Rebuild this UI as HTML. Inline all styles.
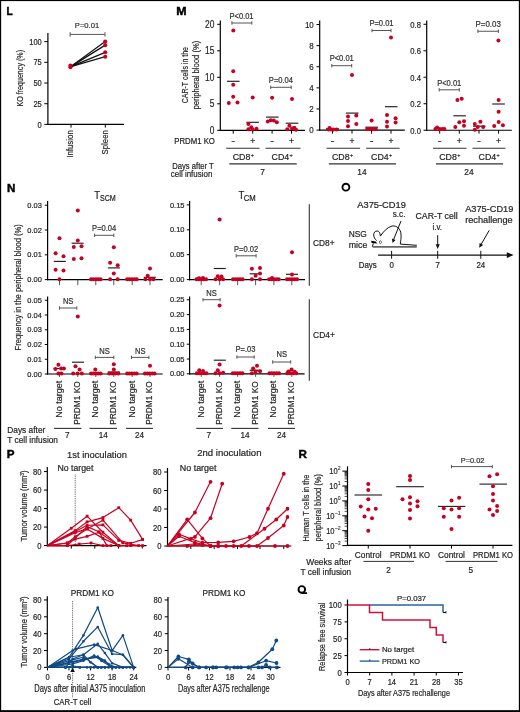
<!DOCTYPE html>
<html><head><meta charset="utf-8"><style>
html,body{margin:0;padding:0;background:#fff;}
svg{display:block;will-change:transform;}
text{font-family:"Liberation Sans",sans-serif;stroke:#2a2a2a;stroke-width:0.2px;}
</style></head><body>
<svg width="520" height="712" viewBox="0 0 520 712" font-family="Liberation Sans, sans-serif" fill="#222">
<rect width="520" height="712" fill="#fff"/>
<text x="6.50" y="14.80" font-size="11.3" font-weight="bold" fill="#000" textLength="6.21" lengthAdjust="spacingAndGlyphs" style="stroke:#000;stroke-width:0.45px">L</text>
<line x1="47.90" y1="33.00" x2="47.90" y2="125.00" stroke="#000" stroke-width="1.2"/>
<line x1="44.30" y1="124.40" x2="47.90" y2="124.40" stroke="#000" stroke-width="1.0"/>
<text x="41.70" y="127.50" font-size="8.6" text-anchor="end" textLength="4.16" lengthAdjust="spacingAndGlyphs">0</text>
<line x1="44.30" y1="103.71" x2="47.90" y2="103.71" stroke="#000" stroke-width="1.0"/>
<text x="41.70" y="106.81" font-size="8.6" text-anchor="end" textLength="8.32" lengthAdjust="spacingAndGlyphs">25</text>
<line x1="44.30" y1="83.03" x2="47.90" y2="83.03" stroke="#000" stroke-width="1.0"/>
<text x="41.70" y="86.12" font-size="8.6" text-anchor="end" textLength="8.32" lengthAdjust="spacingAndGlyphs">50</text>
<line x1="44.30" y1="62.34" x2="47.90" y2="62.34" stroke="#000" stroke-width="1.0"/>
<text x="41.70" y="65.44" font-size="8.6" text-anchor="end" textLength="8.32" lengthAdjust="spacingAndGlyphs">75</text>
<line x1="44.30" y1="41.65" x2="47.90" y2="41.65" stroke="#000" stroke-width="1.0"/>
<text x="41.70" y="44.75" font-size="8.6" text-anchor="end" textLength="12.48" lengthAdjust="spacingAndGlyphs">100</text>
<line x1="47.30" y1="124.40" x2="124.00" y2="124.40" stroke="#000" stroke-width="1.2"/>
<line x1="71.00" y1="124.40" x2="71.00" y2="127.60" stroke="#000" stroke-width="1.0"/>
<line x1="105.30" y1="124.40" x2="105.30" y2="127.60" stroke="#000" stroke-width="1.0"/>
<text x="73.30" y="130.20" font-size="8.4" text-anchor="end" transform="rotate(-90 73.30 130.20)" textLength="27.60" lengthAdjust="spacingAndGlyphs">Infusion</text>
<text x="107.90" y="130.20" font-size="8.4" text-anchor="end" transform="rotate(-90 107.90 130.20)" textLength="24.20" lengthAdjust="spacingAndGlyphs">Spleen</text>
<text x="22.90" y="78.30" font-size="9.0" text-anchor="middle" transform="rotate(-90 22.90 78.30)" textLength="56.60" lengthAdjust="spacingAndGlyphs">KO frequency (%)</text>
<line x1="70.15" y1="34.40" x2="105.00" y2="34.40" stroke="#555" stroke-width="1.0"/>
<line x1="70.15" y1="32.20" x2="70.15" y2="36.60" stroke="#555" stroke-width="1.0"/>
<line x1="105.00" y1="32.20" x2="105.00" y2="36.60" stroke="#555" stroke-width="1.0"/>
<text x="74.80" y="27.85" font-size="7.7" fill="#333" textLength="24.40" lengthAdjust="spacingAndGlyphs">P=0.01</text>
<line x1="70.90" y1="66.60" x2="105.20" y2="41.50" stroke="#111" stroke-width="1.25"/>
<line x1="70.90" y1="66.60" x2="105.20" y2="45.15" stroke="#111" stroke-width="1.25"/>
<line x1="70.90" y1="66.60" x2="105.20" y2="52.30" stroke="#111" stroke-width="1.25"/>
<line x1="70.90" y1="66.60" x2="105.20" y2="56.70" stroke="#111" stroke-width="1.25"/>
<circle cx="70.40" cy="65.60" r="2.05" fill="#c80020"/>
<circle cx="70.40" cy="67.30" r="2.05" fill="#c80020"/>
<circle cx="105.20" cy="41.50" r="2.05" fill="#c80020"/>
<circle cx="105.20" cy="45.15" r="2.05" fill="#c80020"/>
<circle cx="105.20" cy="52.30" r="2.05" fill="#c80020"/>
<circle cx="105.20" cy="56.70" r="2.05" fill="#c80020"/>
<text x="176.20" y="14.80" font-size="11.3" font-weight="bold" fill="#000" textLength="10.35" lengthAdjust="spacingAndGlyphs" style="stroke:#000;stroke-width:0.45px">M</text>
<line x1="220.30" y1="20.40" x2="220.30" y2="130.90" stroke="#000" stroke-width="1.2"/>
<line x1="217.10" y1="130.30" x2="220.30" y2="130.30" stroke="#000" stroke-width="1.0"/>
<text x="214.30" y="133.65" font-size="10.2" text-anchor="end" textLength="4.65" lengthAdjust="spacingAndGlyphs">0</text>
<line x1="217.10" y1="103.80" x2="220.30" y2="103.80" stroke="#000" stroke-width="1.0"/>
<text x="214.30" y="107.15" font-size="10.2" text-anchor="end" textLength="4.65" lengthAdjust="spacingAndGlyphs">5</text>
<line x1="217.10" y1="77.30" x2="220.30" y2="77.30" stroke="#000" stroke-width="1.0"/>
<text x="214.30" y="80.65" font-size="10.2" text-anchor="end" textLength="9.30" lengthAdjust="spacingAndGlyphs">10</text>
<line x1="217.10" y1="50.80" x2="220.30" y2="50.80" stroke="#000" stroke-width="1.0"/>
<text x="214.30" y="54.15" font-size="10.2" text-anchor="end" textLength="9.30" lengthAdjust="spacingAndGlyphs">15</text>
<line x1="217.10" y1="24.30" x2="220.30" y2="24.30" stroke="#000" stroke-width="1.0"/>
<text x="214.30" y="27.65" font-size="10.2" text-anchor="end" textLength="9.30" lengthAdjust="spacingAndGlyphs">20</text>
<line x1="319.70" y1="20.40" x2="319.70" y2="130.70" stroke="#000" stroke-width="1.2"/>
<line x1="316.50" y1="130.10" x2="319.70" y2="130.10" stroke="#000" stroke-width="1.0"/>
<text x="313.80" y="133.35" font-size="9.4" text-anchor="end" textLength="4.44" lengthAdjust="spacingAndGlyphs">0</text>
<line x1="316.50" y1="108.98" x2="319.70" y2="108.98" stroke="#000" stroke-width="1.0"/>
<text x="313.80" y="112.23" font-size="9.4" text-anchor="end" textLength="4.44" lengthAdjust="spacingAndGlyphs">2</text>
<line x1="316.50" y1="87.86" x2="319.70" y2="87.86" stroke="#000" stroke-width="1.0"/>
<text x="313.80" y="91.11" font-size="9.4" text-anchor="end" textLength="4.44" lengthAdjust="spacingAndGlyphs">4</text>
<line x1="316.50" y1="66.74" x2="319.70" y2="66.74" stroke="#000" stroke-width="1.0"/>
<text x="313.80" y="69.99" font-size="9.4" text-anchor="end" textLength="4.44" lengthAdjust="spacingAndGlyphs">6</text>
<line x1="316.50" y1="45.62" x2="319.70" y2="45.62" stroke="#000" stroke-width="1.0"/>
<text x="313.80" y="48.87" font-size="9.4" text-anchor="end" textLength="4.44" lengthAdjust="spacingAndGlyphs">8</text>
<line x1="316.50" y1="24.50" x2="319.70" y2="24.50" stroke="#000" stroke-width="1.0"/>
<text x="313.80" y="27.75" font-size="9.4" text-anchor="end" textLength="8.89" lengthAdjust="spacingAndGlyphs">10</text>
<line x1="426.70" y1="20.40" x2="426.70" y2="130.85" stroke="#000" stroke-width="1.2"/>
<line x1="423.50" y1="130.25" x2="426.70" y2="130.25" stroke="#000" stroke-width="1.0"/>
<text x="421.00" y="133.55" font-size="8.4" text-anchor="end" textLength="10.63" lengthAdjust="spacingAndGlyphs">0.0</text>
<line x1="423.50" y1="103.75" x2="426.70" y2="103.75" stroke="#000" stroke-width="1.0"/>
<text x="421.00" y="107.05" font-size="8.4" text-anchor="end" textLength="10.63" lengthAdjust="spacingAndGlyphs">0.2</text>
<line x1="423.50" y1="77.25" x2="426.70" y2="77.25" stroke="#000" stroke-width="1.0"/>
<text x="421.00" y="80.55" font-size="8.4" text-anchor="end" textLength="10.63" lengthAdjust="spacingAndGlyphs">0.4</text>
<line x1="423.50" y1="50.75" x2="426.70" y2="50.75" stroke="#000" stroke-width="1.0"/>
<text x="421.00" y="54.05" font-size="8.4" text-anchor="end" textLength="10.63" lengthAdjust="spacingAndGlyphs">0.6</text>
<line x1="423.50" y1="24.25" x2="426.70" y2="24.25" stroke="#000" stroke-width="1.0"/>
<text x="421.00" y="27.55" font-size="8.4" text-anchor="end" textLength="10.63" lengthAdjust="spacingAndGlyphs">0.8</text>
<line x1="219.70" y1="130.30" x2="305.00" y2="130.30" stroke="#000" stroke-width="1.2"/>
<line x1="319.10" y1="130.10" x2="404.80" y2="130.10" stroke="#000" stroke-width="1.2"/>
<line x1="426.10" y1="130.25" x2="511.80" y2="130.25" stroke="#000" stroke-width="1.2"/>
<line x1="233.20" y1="130.30" x2="233.20" y2="133.60" stroke="#000" stroke-width="1.0"/>
<line x1="231.60" y1="141.50" x2="234.80" y2="141.50" stroke="#333" stroke-width="0.9"/>
<line x1="252.70" y1="130.30" x2="252.70" y2="133.60" stroke="#000" stroke-width="1.0"/>
<text x="252.70" y="144.05" font-size="8.6" text-anchor="middle">+</text>
<line x1="272.10" y1="130.30" x2="272.10" y2="133.60" stroke="#000" stroke-width="1.0"/>
<line x1="270.50" y1="141.50" x2="273.70" y2="141.50" stroke="#333" stroke-width="0.9"/>
<line x1="291.50" y1="130.30" x2="291.50" y2="133.60" stroke="#000" stroke-width="1.0"/>
<text x="291.50" y="144.05" font-size="8.6" text-anchor="middle">+</text>
<line x1="332.50" y1="130.30" x2="332.50" y2="133.60" stroke="#000" stroke-width="1.0"/>
<line x1="330.90" y1="141.50" x2="334.10" y2="141.50" stroke="#333" stroke-width="0.9"/>
<line x1="352.00" y1="130.30" x2="352.00" y2="133.60" stroke="#000" stroke-width="1.0"/>
<text x="352.00" y="144.05" font-size="8.6" text-anchor="middle">+</text>
<line x1="371.60" y1="130.30" x2="371.60" y2="133.60" stroke="#000" stroke-width="1.0"/>
<line x1="370.00" y1="141.50" x2="373.20" y2="141.50" stroke="#333" stroke-width="0.9"/>
<line x1="391.00" y1="130.30" x2="391.00" y2="133.60" stroke="#000" stroke-width="1.0"/>
<text x="391.00" y="144.05" font-size="8.6" text-anchor="middle">+</text>
<line x1="439.70" y1="130.30" x2="439.70" y2="133.60" stroke="#000" stroke-width="1.0"/>
<line x1="438.10" y1="141.50" x2="441.30" y2="141.50" stroke="#333" stroke-width="0.9"/>
<line x1="459.30" y1="130.30" x2="459.30" y2="133.60" stroke="#000" stroke-width="1.0"/>
<text x="459.30" y="144.05" font-size="8.6" text-anchor="middle">+</text>
<line x1="479.00" y1="130.30" x2="479.00" y2="133.60" stroke="#000" stroke-width="1.0"/>
<line x1="477.40" y1="141.50" x2="480.60" y2="141.50" stroke="#333" stroke-width="0.9"/>
<line x1="498.60" y1="130.30" x2="498.60" y2="133.60" stroke="#000" stroke-width="1.0"/>
<text x="498.60" y="144.05" font-size="8.6" text-anchor="middle">+</text>
<text x="187.90" y="75.15" font-size="9.0" text-anchor="middle" transform="rotate(-90 187.90 75.15)" textLength="56.30" lengthAdjust="spacingAndGlyphs">CAR-T cells in the</text>
<text x="198.90" y="75.15" font-size="9.0" text-anchor="middle" transform="rotate(-90 198.90 75.15)" textLength="68.90" lengthAdjust="spacingAndGlyphs">peripheral blood (%)</text>
<text x="174.30" y="143.85" font-size="8.6" textLength="40.60" lengthAdjust="spacingAndGlyphs">PRDM1 KO</text>
<line x1="226.20" y1="148.30" x2="259.50" y2="148.30" stroke="#333" stroke-width="1.1"/>
<line x1="265.50" y1="148.30" x2="300.50" y2="148.30" stroke="#333" stroke-width="1.1"/>
<line x1="326.50" y1="148.30" x2="360.10" y2="148.30" stroke="#333" stroke-width="1.1"/>
<line x1="366.20" y1="148.30" x2="399.60" y2="148.30" stroke="#333" stroke-width="1.1"/>
<line x1="433.00" y1="148.30" x2="466.50" y2="148.30" stroke="#333" stroke-width="1.1"/>
<line x1="472.50" y1="148.30" x2="505.50" y2="148.30" stroke="#333" stroke-width="1.1"/>
<line x1="229.30" y1="163.90" x2="296.75" y2="163.90" stroke="#333" stroke-width="1.1"/>
<line x1="328.80" y1="163.90" x2="396.10" y2="163.90" stroke="#333" stroke-width="1.1"/>
<line x1="436.00" y1="163.90" x2="503.00" y2="163.90" stroke="#333" stroke-width="1.1"/>
<text x="232.65" y="159.80" font-size="9.0" textLength="17.70" lengthAdjust="spacingAndGlyphs">CD8</text>
<text x="250.65" y="156.80" font-size="5.5">+</text>
<text x="271.50" y="159.80" font-size="9.0" textLength="17.70" lengthAdjust="spacingAndGlyphs">CD4</text>
<text x="289.50" y="156.80" font-size="5.5">+</text>
<text x="331.95" y="159.80" font-size="9.0" textLength="17.70" lengthAdjust="spacingAndGlyphs">CD8</text>
<text x="349.95" y="156.80" font-size="5.5">+</text>
<text x="371.00" y="159.80" font-size="9.0" textLength="17.70" lengthAdjust="spacingAndGlyphs">CD4</text>
<text x="389.00" y="156.80" font-size="5.5">+</text>
<text x="439.20" y="159.80" font-size="9.0" textLength="17.70" lengthAdjust="spacingAndGlyphs">CD8</text>
<text x="457.20" y="156.80" font-size="5.5">+</text>
<text x="478.50" y="159.80" font-size="9.0" textLength="17.70" lengthAdjust="spacingAndGlyphs">CD4</text>
<text x="496.50" y="156.80" font-size="5.5">+</text>
<text x="262.50" y="175.30" font-size="8.8" text-anchor="middle" textLength="4.65" lengthAdjust="spacingAndGlyphs">7</text>
<text x="361.90" y="175.30" font-size="8.8" text-anchor="middle" textLength="9.30" lengthAdjust="spacingAndGlyphs">14</text>
<text x="469.00" y="175.30" font-size="8.8" text-anchor="middle" textLength="9.30" lengthAdjust="spacingAndGlyphs">24</text>
<text x="172.30" y="168.60" font-size="8.6" textLength="41.40" lengthAdjust="spacingAndGlyphs">Days after T</text>
<text x="170.80" y="177.30" font-size="8.6" textLength="41.50" lengthAdjust="spacingAndGlyphs">cell infusion</text>
<line x1="231.90" y1="23.00" x2="251.80" y2="23.00" stroke="#555" stroke-width="1.0"/>
<line x1="231.90" y1="21.30" x2="231.90" y2="24.70" stroke="#555" stroke-width="1.0"/>
<line x1="251.80" y1="21.30" x2="251.80" y2="24.70" stroke="#555" stroke-width="1.0"/>
<text x="229.50" y="18.70" font-size="8.6" fill="#333" textLength="24.00" lengthAdjust="spacingAndGlyphs">P&lt;0.01</text>
<line x1="270.70" y1="87.30" x2="291.20" y2="87.30" stroke="#555" stroke-width="1.0"/>
<line x1="270.70" y1="85.60" x2="270.70" y2="89.00" stroke="#555" stroke-width="1.0"/>
<line x1="291.20" y1="85.60" x2="291.20" y2="89.00" stroke="#555" stroke-width="1.0"/>
<text x="280.95" y="83.00" font-size="8.6" text-anchor="middle" fill="#333" textLength="24.19" lengthAdjust="spacingAndGlyphs">P=0.04</text>
<line x1="331.80" y1="65.70" x2="351.70" y2="65.70" stroke="#555" stroke-width="1.0"/>
<line x1="331.80" y1="64.00" x2="331.80" y2="67.40" stroke="#555" stroke-width="1.0"/>
<line x1="351.70" y1="64.00" x2="351.70" y2="67.40" stroke="#555" stroke-width="1.0"/>
<text x="341.75" y="61.40" font-size="8.6" text-anchor="middle" fill="#333" textLength="24.19" lengthAdjust="spacingAndGlyphs">P&lt;0.01</text>
<line x1="372.00" y1="30.50" x2="391.00" y2="30.50" stroke="#555" stroke-width="1.0"/>
<line x1="372.00" y1="28.80" x2="372.00" y2="32.20" stroke="#555" stroke-width="1.0"/>
<line x1="391.00" y1="28.80" x2="391.00" y2="32.20" stroke="#555" stroke-width="1.0"/>
<text x="381.50" y="26.20" font-size="8.6" text-anchor="middle" fill="#333" textLength="24.19" lengthAdjust="spacingAndGlyphs">P=0.01</text>
<line x1="439.20" y1="89.80" x2="459.30" y2="89.80" stroke="#555" stroke-width="1.0"/>
<line x1="439.20" y1="88.10" x2="439.20" y2="91.50" stroke="#555" stroke-width="1.0"/>
<line x1="459.30" y1="88.10" x2="459.30" y2="91.50" stroke="#555" stroke-width="1.0"/>
<text x="449.25" y="85.50" font-size="8.6" text-anchor="middle" fill="#333" textLength="24.19" lengthAdjust="spacingAndGlyphs">P&lt;0.01</text>
<line x1="477.90" y1="31.25" x2="498.40" y2="31.25" stroke="#555" stroke-width="1.0"/>
<line x1="477.90" y1="29.55" x2="477.90" y2="32.95" stroke="#555" stroke-width="1.0"/>
<line x1="498.40" y1="29.55" x2="498.40" y2="32.95" stroke="#555" stroke-width="1.0"/>
<text x="475.50" y="26.95" font-size="8.6" fill="#333" textLength="25.30" lengthAdjust="spacingAndGlyphs">P=0.03</text>
<line x1="226.95" y1="81.30" x2="239.55" y2="81.30" stroke="#1e1e1e" stroke-width="1.15"/>
<line x1="246.35" y1="122.30" x2="258.95" y2="122.30" stroke="#1e1e1e" stroke-width="1.15"/>
<line x1="266.05" y1="117.10" x2="278.65" y2="117.10" stroke="#1e1e1e" stroke-width="1.15"/>
<line x1="285.70" y1="123.20" x2="298.30" y2="123.20" stroke="#1e1e1e" stroke-width="1.15"/>
<circle cx="233.30" cy="30.40" r="2.0" fill="#c80020"/>
<circle cx="233.20" cy="71.25" r="2.0" fill="#c80020"/>
<circle cx="233.20" cy="84.75" r="2.0" fill="#c80020"/>
<circle cx="233.20" cy="96.70" r="2.0" fill="#c80020"/>
<circle cx="228.80" cy="102.90" r="2.0" fill="#c80020"/>
<circle cx="237.50" cy="102.40" r="2.0" fill="#c80020"/>
<circle cx="252.70" cy="97.40" r="2.0" fill="#c80020"/>
<circle cx="248.40" cy="124.00" r="2.0" fill="#c80020"/>
<circle cx="251.30" cy="127.20" r="2.0" fill="#c80020"/>
<circle cx="248.40" cy="129.20" r="2.0" fill="#c80020"/>
<circle cx="256.50" cy="128.70" r="2.0" fill="#c80020"/>
<circle cx="252.70" cy="129.50" r="2.0" fill="#c80020"/>
<circle cx="272.10" cy="97.70" r="2.0" fill="#c80020"/>
<circle cx="267.80" cy="121.40" r="2.0" fill="#c80020"/>
<circle cx="270.70" cy="120.20" r="2.0" fill="#c80020"/>
<circle cx="273.80" cy="120.60" r="2.0" fill="#c80020"/>
<circle cx="276.80" cy="122.30" r="2.0" fill="#c80020"/>
<circle cx="292.00" cy="99.10" r="2.0" fill="#c80020"/>
<circle cx="289.40" cy="125.80" r="2.0" fill="#c80020"/>
<circle cx="287.30" cy="129.20" r="2.0" fill="#c80020"/>
<circle cx="292.00" cy="128.40" r="2.0" fill="#c80020"/>
<circle cx="294.30" cy="127.80" r="2.0" fill="#c80020"/>
<circle cx="296.00" cy="129.70" r="2.0" fill="#c80020"/>
<line x1="326.20" y1="128.60" x2="338.80" y2="128.60" stroke="#1e1e1e" stroke-width="1.15"/>
<line x1="345.90" y1="113.10" x2="358.50" y2="113.10" stroke="#1e1e1e" stroke-width="1.15"/>
<line x1="365.35" y1="127.20" x2="377.95" y2="127.20" stroke="#1e1e1e" stroke-width="1.15"/>
<line x1="384.90" y1="106.70" x2="397.50" y2="106.70" stroke="#1e1e1e" stroke-width="1.15"/>
<circle cx="328.50" cy="129.60" r="2.0" fill="#c80020"/>
<circle cx="331.00" cy="129.60" r="2.0" fill="#c80020"/>
<circle cx="333.50" cy="129.60" r="2.0" fill="#c80020"/>
<circle cx="336.50" cy="129.60" r="2.0" fill="#c80020"/>
<circle cx="329.50" cy="128.00" r="2.0" fill="#c80020"/>
<circle cx="352.00" cy="75.10" r="2.0" fill="#c80020"/>
<circle cx="348.00" cy="116.60" r="2.0" fill="#c80020"/>
<circle cx="356.30" cy="115.40" r="2.0" fill="#c80020"/>
<circle cx="348.00" cy="121.10" r="2.0" fill="#c80020"/>
<circle cx="348.00" cy="126.30" r="2.0" fill="#c80020"/>
<circle cx="356.30" cy="124.00" r="2.0" fill="#c80020"/>
<circle cx="371.60" cy="120.60" r="2.0" fill="#c80020"/>
<circle cx="367.20" cy="128.90" r="2.0" fill="#c80020"/>
<circle cx="370.00" cy="128.90" r="2.0" fill="#c80020"/>
<circle cx="372.80" cy="128.90" r="2.0" fill="#c80020"/>
<circle cx="375.80" cy="128.90" r="2.0" fill="#c80020"/>
<circle cx="391.00" cy="37.50" r="2.0" fill="#c80020"/>
<circle cx="387.00" cy="114.90" r="2.0" fill="#c80020"/>
<circle cx="387.00" cy="121.80" r="2.0" fill="#c80020"/>
<circle cx="387.00" cy="126.60" r="2.0" fill="#c80020"/>
<circle cx="395.60" cy="118.30" r="2.0" fill="#c80020"/>
<circle cx="395.60" cy="122.60" r="2.0" fill="#c80020"/>
<line x1="453.30" y1="115.80" x2="465.90" y2="115.80" stroke="#1e1e1e" stroke-width="1.15"/>
<line x1="472.95" y1="126.20" x2="485.55" y2="126.20" stroke="#1e1e1e" stroke-width="1.15"/>
<line x1="492.30" y1="104.00" x2="504.90" y2="104.00" stroke="#1e1e1e" stroke-width="1.15"/>
<circle cx="435.40" cy="129.10" r="2.0" fill="#c80020"/>
<circle cx="437.10" cy="127.40" r="2.0" fill="#c80020"/>
<circle cx="439.70" cy="129.10" r="2.0" fill="#c80020"/>
<circle cx="442.30" cy="129.10" r="2.0" fill="#c80020"/>
<circle cx="444.40" cy="129.10" r="2.0" fill="#c80020"/>
<circle cx="457.40" cy="100.10" r="2.0" fill="#c80020"/>
<circle cx="461.70" cy="98.80" r="2.0" fill="#c80020"/>
<circle cx="459.30" cy="122.20" r="2.0" fill="#c80020"/>
<circle cx="464.00" cy="121.30" r="2.0" fill="#c80020"/>
<circle cx="455.30" cy="126.90" r="2.0" fill="#c80020"/>
<circle cx="464.00" cy="125.80" r="2.0" fill="#c80020"/>
<circle cx="474.80" cy="123.90" r="2.0" fill="#c80020"/>
<circle cx="480.40" cy="121.70" r="2.0" fill="#c80020"/>
<circle cx="474.80" cy="129.70" r="2.0" fill="#c80020"/>
<circle cx="477.80" cy="126.90" r="2.0" fill="#c80020"/>
<circle cx="483.20" cy="127.10" r="2.0" fill="#c80020"/>
<circle cx="498.40" cy="40.40" r="2.0" fill="#c80020"/>
<circle cx="498.60" cy="100.10" r="2.0" fill="#c80020"/>
<circle cx="498.60" cy="111.80" r="2.0" fill="#c80020"/>
<circle cx="498.60" cy="121.90" r="2.0" fill="#c80020"/>
<circle cx="494.20" cy="126.00" r="2.0" fill="#c80020"/>
<circle cx="502.90" cy="125.20" r="2.0" fill="#c80020"/>
<text x="6.90" y="191.60" font-size="11.6" font-weight="bold" fill="#000" textLength="8.38" lengthAdjust="spacingAndGlyphs" style="stroke:#000;stroke-width:0.45px">N</text>
<text x="94.20" y="198.60" font-size="10.3" textLength="5.80" lengthAdjust="spacingAndGlyphs">T</text>
<text x="100.00" y="200.90" font-size="8.2" textLength="15.80" lengthAdjust="spacingAndGlyphs">SCM</text>
<text x="238.50" y="198.60" font-size="10.3" textLength="5.80" lengthAdjust="spacingAndGlyphs">T</text>
<text x="243.80" y="200.90" font-size="8.2" textLength="12.00" lengthAdjust="spacingAndGlyphs">CM</text>
<line x1="47.60" y1="200.90" x2="47.60" y2="280.20" stroke="#000" stroke-width="1.2"/>
<line x1="44.80" y1="279.60" x2="47.60" y2="279.60" stroke="#000" stroke-width="1.0"/>
<text x="41.90" y="282.25" font-size="7.5" text-anchor="end" textLength="14.60" lengthAdjust="spacingAndGlyphs">0.00</text>
<line x1="44.80" y1="254.80" x2="47.60" y2="254.80" stroke="#000" stroke-width="1.0"/>
<text x="41.90" y="257.45" font-size="7.5" text-anchor="end" textLength="14.60" lengthAdjust="spacingAndGlyphs">0.01</text>
<line x1="44.80" y1="230.00" x2="47.60" y2="230.00" stroke="#000" stroke-width="1.0"/>
<text x="41.90" y="232.65" font-size="7.5" text-anchor="end" textLength="14.60" lengthAdjust="spacingAndGlyphs">0.02</text>
<line x1="44.80" y1="205.20" x2="47.60" y2="205.20" stroke="#000" stroke-width="1.0"/>
<text x="41.90" y="207.85" font-size="7.5" text-anchor="end" textLength="14.60" lengthAdjust="spacingAndGlyphs">0.03</text>
<line x1="47.60" y1="296.50" x2="47.60" y2="374.60" stroke="#000" stroke-width="1.2"/>
<line x1="44.80" y1="374.00" x2="47.60" y2="374.00" stroke="#000" stroke-width="1.0"/>
<text x="41.90" y="376.65" font-size="7.5" text-anchor="end" textLength="14.60" lengthAdjust="spacingAndGlyphs">0.00</text>
<line x1="44.80" y1="359.25" x2="47.60" y2="359.25" stroke="#000" stroke-width="1.0"/>
<text x="41.90" y="361.90" font-size="7.5" text-anchor="end" textLength="14.60" lengthAdjust="spacingAndGlyphs">0.01</text>
<line x1="44.80" y1="344.50" x2="47.60" y2="344.50" stroke="#000" stroke-width="1.0"/>
<text x="41.90" y="347.15" font-size="7.5" text-anchor="end" textLength="14.60" lengthAdjust="spacingAndGlyphs">0.02</text>
<line x1="44.80" y1="329.75" x2="47.60" y2="329.75" stroke="#000" stroke-width="1.0"/>
<text x="41.90" y="332.40" font-size="7.5" text-anchor="end" textLength="14.60" lengthAdjust="spacingAndGlyphs">0.03</text>
<line x1="44.80" y1="315.00" x2="47.60" y2="315.00" stroke="#000" stroke-width="1.0"/>
<text x="41.90" y="317.65" font-size="7.5" text-anchor="end" textLength="14.60" lengthAdjust="spacingAndGlyphs">0.04</text>
<line x1="44.80" y1="300.25" x2="47.60" y2="300.25" stroke="#000" stroke-width="1.0"/>
<text x="41.90" y="302.90" font-size="7.5" text-anchor="end" textLength="14.60" lengthAdjust="spacingAndGlyphs">0.05</text>
<line x1="189.60" y1="200.90" x2="189.60" y2="280.20" stroke="#000" stroke-width="1.2"/>
<line x1="186.80" y1="279.60" x2="189.60" y2="279.60" stroke="#000" stroke-width="1.0"/>
<text x="184.50" y="282.25" font-size="7.5" text-anchor="end" textLength="14.60" lengthAdjust="spacingAndGlyphs">0.00</text>
<line x1="186.80" y1="254.70" x2="189.60" y2="254.70" stroke="#000" stroke-width="1.0"/>
<text x="184.50" y="257.35" font-size="7.5" text-anchor="end" textLength="14.60" lengthAdjust="spacingAndGlyphs">0.05</text>
<line x1="186.80" y1="229.80" x2="189.60" y2="229.80" stroke="#000" stroke-width="1.0"/>
<text x="184.50" y="232.45" font-size="7.5" text-anchor="end" textLength="14.60" lengthAdjust="spacingAndGlyphs">0.10</text>
<line x1="186.80" y1="204.90" x2="189.60" y2="204.90" stroke="#000" stroke-width="1.0"/>
<text x="184.50" y="207.55" font-size="7.5" text-anchor="end" textLength="14.60" lengthAdjust="spacingAndGlyphs">0.15</text>
<line x1="189.60" y1="296.50" x2="189.60" y2="374.40" stroke="#000" stroke-width="1.2"/>
<line x1="186.80" y1="373.80" x2="189.60" y2="373.80" stroke="#000" stroke-width="1.0"/>
<text x="184.50" y="376.45" font-size="7.5" text-anchor="end" textLength="14.60" lengthAdjust="spacingAndGlyphs">0.00</text>
<line x1="186.80" y1="359.00" x2="189.60" y2="359.00" stroke="#000" stroke-width="1.0"/>
<text x="184.50" y="361.65" font-size="7.5" text-anchor="end" textLength="14.60" lengthAdjust="spacingAndGlyphs">0.05</text>
<line x1="186.80" y1="344.20" x2="189.60" y2="344.20" stroke="#000" stroke-width="1.0"/>
<text x="184.50" y="346.85" font-size="7.5" text-anchor="end" textLength="14.60" lengthAdjust="spacingAndGlyphs">0.10</text>
<line x1="186.80" y1="329.40" x2="189.60" y2="329.40" stroke="#000" stroke-width="1.0"/>
<text x="184.50" y="332.05" font-size="7.5" text-anchor="end" textLength="14.60" lengthAdjust="spacingAndGlyphs">0.15</text>
<line x1="186.80" y1="314.60" x2="189.60" y2="314.60" stroke="#000" stroke-width="1.0"/>
<text x="184.50" y="317.25" font-size="7.5" text-anchor="end" textLength="14.60" lengthAdjust="spacingAndGlyphs">0.20</text>
<line x1="186.80" y1="299.80" x2="189.60" y2="299.80" stroke="#000" stroke-width="1.0"/>
<text x="184.50" y="302.45" font-size="7.5" text-anchor="end" textLength="14.60" lengthAdjust="spacingAndGlyphs">0.25</text>
<line x1="47.00" y1="279.60" x2="162.70" y2="279.60" stroke="#000" stroke-width="1.2"/>
<line x1="59.50" y1="279.60" x2="59.50" y2="285.20" stroke="#444" stroke-width="0.9"/>
<line x1="77.80" y1="279.60" x2="77.80" y2="285.20" stroke="#444" stroke-width="0.9"/>
<line x1="95.80" y1="279.60" x2="95.80" y2="285.20" stroke="#444" stroke-width="0.9"/>
<line x1="113.80" y1="279.60" x2="113.80" y2="285.20" stroke="#444" stroke-width="0.9"/>
<line x1="132.20" y1="279.60" x2="132.20" y2="285.20" stroke="#444" stroke-width="0.9"/>
<line x1="150.00" y1="279.60" x2="150.00" y2="285.20" stroke="#444" stroke-width="0.9"/>
<line x1="47.00" y1="374.00" x2="162.70" y2="374.00" stroke="#000" stroke-width="1.2"/>
<line x1="59.50" y1="374.00" x2="59.50" y2="377.00" stroke="#444" stroke-width="0.9"/>
<line x1="77.80" y1="374.00" x2="77.80" y2="377.00" stroke="#444" stroke-width="0.9"/>
<line x1="95.80" y1="374.00" x2="95.80" y2="377.00" stroke="#444" stroke-width="0.9"/>
<line x1="113.80" y1="374.00" x2="113.80" y2="377.00" stroke="#444" stroke-width="0.9"/>
<line x1="132.20" y1="374.00" x2="132.20" y2="377.00" stroke="#444" stroke-width="0.9"/>
<line x1="150.00" y1="374.00" x2="150.00" y2="377.00" stroke="#444" stroke-width="0.9"/>
<line x1="189.00" y1="279.60" x2="305.00" y2="279.60" stroke="#000" stroke-width="1.2"/>
<line x1="201.20" y1="279.60" x2="201.20" y2="285.20" stroke="#444" stroke-width="0.9"/>
<line x1="219.60" y1="279.60" x2="219.60" y2="285.20" stroke="#444" stroke-width="0.9"/>
<line x1="237.60" y1="279.60" x2="237.60" y2="285.20" stroke="#444" stroke-width="0.9"/>
<line x1="255.60" y1="279.60" x2="255.60" y2="285.20" stroke="#444" stroke-width="0.9"/>
<line x1="273.90" y1="279.60" x2="273.90" y2="285.20" stroke="#444" stroke-width="0.9"/>
<line x1="291.80" y1="279.60" x2="291.80" y2="285.20" stroke="#444" stroke-width="0.9"/>
<line x1="189.00" y1="373.80" x2="304.60" y2="373.80" stroke="#000" stroke-width="1.2"/>
<line x1="201.20" y1="373.80" x2="201.20" y2="376.80" stroke="#444" stroke-width="0.9"/>
<line x1="219.60" y1="373.80" x2="219.60" y2="376.80" stroke="#444" stroke-width="0.9"/>
<line x1="237.60" y1="373.80" x2="237.60" y2="376.80" stroke="#444" stroke-width="0.9"/>
<line x1="255.60" y1="373.80" x2="255.60" y2="376.80" stroke="#444" stroke-width="0.9"/>
<line x1="273.90" y1="373.80" x2="273.90" y2="376.80" stroke="#444" stroke-width="0.9"/>
<line x1="291.80" y1="373.80" x2="291.80" y2="376.80" stroke="#444" stroke-width="0.9"/>
<text x="21.20" y="287.30" font-size="9.3" text-anchor="middle" transform="rotate(-90 21.20 287.30)" textLength="126.20" lengthAdjust="spacingAndGlyphs">Frequency in the peripheral blood (%)</text>
<text x="62.05" y="380.80" font-size="8.6" text-anchor="end" transform="rotate(-90 62.05 380.80)" textLength="37.00" lengthAdjust="spacingAndGlyphs">No target</text>
<text x="79.95" y="381.30" font-size="8.6" text-anchor="end" transform="rotate(-90 79.95 381.30)" textLength="43.45" lengthAdjust="spacingAndGlyphs">PRDM1 KO</text>
<text x="98.35" y="380.80" font-size="8.6" text-anchor="end" transform="rotate(-90 98.35 380.80)" textLength="37.00" lengthAdjust="spacingAndGlyphs">No target</text>
<text x="115.95" y="381.30" font-size="8.6" text-anchor="end" transform="rotate(-90 115.95 381.30)" textLength="43.45" lengthAdjust="spacingAndGlyphs">PRDM1 KO</text>
<text x="134.75" y="380.80" font-size="8.6" text-anchor="end" transform="rotate(-90 134.75 380.80)" textLength="37.00" lengthAdjust="spacingAndGlyphs">No target</text>
<text x="152.15" y="381.30" font-size="8.6" text-anchor="end" transform="rotate(-90 152.15 381.30)" textLength="43.45" lengthAdjust="spacingAndGlyphs">PRDM1 KO</text>
<text x="203.75" y="380.80" font-size="8.6" text-anchor="end" transform="rotate(-90 203.75 380.80)" textLength="37.00" lengthAdjust="spacingAndGlyphs">No target</text>
<text x="221.75" y="381.30" font-size="8.6" text-anchor="end" transform="rotate(-90 221.75 381.30)" textLength="43.45" lengthAdjust="spacingAndGlyphs">PRDM1 KO</text>
<text x="240.15" y="380.80" font-size="8.6" text-anchor="end" transform="rotate(-90 240.15 380.80)" textLength="37.00" lengthAdjust="spacingAndGlyphs">No target</text>
<text x="257.75" y="381.30" font-size="8.6" text-anchor="end" transform="rotate(-90 257.75 381.30)" textLength="43.45" lengthAdjust="spacingAndGlyphs">PRDM1 KO</text>
<text x="276.45" y="380.80" font-size="8.6" text-anchor="end" transform="rotate(-90 276.45 380.80)" textLength="37.00" lengthAdjust="spacingAndGlyphs">No target</text>
<text x="293.95" y="381.30" font-size="8.6" text-anchor="end" transform="rotate(-90 293.95 381.30)" textLength="43.45" lengthAdjust="spacingAndGlyphs">PRDM1 KO</text>
<line x1="54.00" y1="428.40" x2="81.40" y2="428.40" stroke="#333" stroke-width="1.1"/>
<line x1="89.50" y1="428.40" x2="117.00" y2="428.40" stroke="#333" stroke-width="1.1"/>
<line x1="126.00" y1="428.40" x2="153.00" y2="428.40" stroke="#333" stroke-width="1.1"/>
<line x1="196.25" y1="428.40" x2="223.00" y2="428.40" stroke="#333" stroke-width="1.1"/>
<line x1="231.25" y1="428.40" x2="258.50" y2="428.40" stroke="#333" stroke-width="1.1"/>
<line x1="268.00" y1="428.40" x2="295.00" y2="428.40" stroke="#333" stroke-width="1.1"/>
<text x="67.15" y="437.60" font-size="8.6" text-anchor="middle" textLength="4.54" lengthAdjust="spacingAndGlyphs">7</text>
<text x="103.25" y="437.60" font-size="8.6" text-anchor="middle" textLength="9.09" lengthAdjust="spacingAndGlyphs">14</text>
<text x="139.50" y="437.60" font-size="8.6" text-anchor="middle" textLength="9.09" lengthAdjust="spacingAndGlyphs">24</text>
<text x="208.75" y="437.60" font-size="8.6" text-anchor="middle" textLength="4.54" lengthAdjust="spacingAndGlyphs">7</text>
<text x="245.00" y="437.60" font-size="8.6" text-anchor="middle" textLength="9.09" lengthAdjust="spacingAndGlyphs">14</text>
<text x="281.50" y="437.60" font-size="8.6" text-anchor="middle" textLength="9.09" lengthAdjust="spacingAndGlyphs">24</text>
<text x="7.30" y="432.50" font-size="8.3" textLength="38.00" lengthAdjust="spacingAndGlyphs">Days after</text>
<text x="7.30" y="442.90" font-size="8.4" textLength="50.70" lengthAdjust="spacingAndGlyphs">T cell infusion</text>
<line x1="309.30" y1="204.30" x2="309.30" y2="285.80" stroke="#333" stroke-width="1.1"/>
<line x1="309.30" y1="299.30" x2="309.30" y2="380.80" stroke="#333" stroke-width="1.1"/>
<text x="313.00" y="245.60" font-size="8.8" textLength="21.60" lengthAdjust="spacingAndGlyphs">CD8+</text>
<text x="313.10" y="337.60" font-size="8.8" textLength="21.70" lengthAdjust="spacingAndGlyphs">CD4+</text>
<line x1="94.60" y1="235.30" x2="113.80" y2="235.30" stroke="#555" stroke-width="1.0"/>
<line x1="94.60" y1="233.60" x2="94.60" y2="237.00" stroke="#555" stroke-width="1.0"/>
<line x1="113.80" y1="233.60" x2="113.80" y2="237.00" stroke="#555" stroke-width="1.0"/>
<text x="104.20" y="230.50" font-size="8.6" text-anchor="middle" fill="#333" textLength="24.19" lengthAdjust="spacingAndGlyphs">P=0.04</text>
<line x1="59.50" y1="308.00" x2="76.80" y2="308.00" stroke="#555" stroke-width="1.0"/>
<line x1="59.50" y1="306.30" x2="59.50" y2="309.70" stroke="#555" stroke-width="1.0"/>
<line x1="76.80" y1="306.30" x2="76.80" y2="309.70" stroke="#555" stroke-width="1.0"/>
<text x="68.15" y="304.00" font-size="8.6" text-anchor="middle" fill="#333" textLength="10.51" lengthAdjust="spacingAndGlyphs">NS</text>
<line x1="95.30" y1="357.40" x2="113.80" y2="357.40" stroke="#555" stroke-width="1.0"/>
<line x1="95.30" y1="355.70" x2="95.30" y2="359.10" stroke="#555" stroke-width="1.0"/>
<line x1="113.80" y1="355.70" x2="113.80" y2="359.10" stroke="#555" stroke-width="1.0"/>
<text x="104.55" y="353.70" font-size="8.6" text-anchor="middle" fill="#333" textLength="10.51" lengthAdjust="spacingAndGlyphs">NS</text>
<line x1="131.50" y1="357.40" x2="148.90" y2="357.40" stroke="#555" stroke-width="1.0"/>
<line x1="131.50" y1="355.70" x2="131.50" y2="359.10" stroke="#555" stroke-width="1.0"/>
<line x1="148.90" y1="355.70" x2="148.90" y2="359.10" stroke="#555" stroke-width="1.0"/>
<text x="140.20" y="353.70" font-size="8.6" text-anchor="middle" fill="#333" textLength="10.51" lengthAdjust="spacingAndGlyphs">NS</text>
<line x1="236.20" y1="255.80" x2="256.10" y2="255.80" stroke="#555" stroke-width="1.0"/>
<line x1="236.20" y1="254.10" x2="236.20" y2="257.50" stroke="#555" stroke-width="1.0"/>
<line x1="256.10" y1="254.10" x2="256.10" y2="257.50" stroke="#555" stroke-width="1.0"/>
<text x="246.15" y="251.50" font-size="8.6" text-anchor="middle" fill="#333" textLength="24.19" lengthAdjust="spacingAndGlyphs">P=0.02</text>
<line x1="203.00" y1="299.70" x2="220.10" y2="299.70" stroke="#555" stroke-width="1.0"/>
<line x1="203.00" y1="298.00" x2="203.00" y2="301.40" stroke="#555" stroke-width="1.0"/>
<line x1="220.10" y1="298.00" x2="220.10" y2="301.40" stroke="#555" stroke-width="1.0"/>
<text x="211.55" y="296.00" font-size="8.6" text-anchor="middle" fill="#333" textLength="10.51" lengthAdjust="spacingAndGlyphs">NS</text>
<line x1="236.90" y1="357.00" x2="254.20" y2="357.00" stroke="#555" stroke-width="1.0"/>
<line x1="236.90" y1="355.30" x2="236.90" y2="358.70" stroke="#555" stroke-width="1.0"/>
<line x1="254.20" y1="355.30" x2="254.20" y2="358.70" stroke="#555" stroke-width="1.0"/>
<text x="245.55" y="352.20" font-size="8.6" text-anchor="middle" fill="#333" textLength="19.98" lengthAdjust="spacingAndGlyphs">P=.03</text>
<line x1="272.70" y1="362.00" x2="290.70" y2="362.00" stroke="#555" stroke-width="1.0"/>
<line x1="272.70" y1="360.30" x2="272.70" y2="363.70" stroke="#555" stroke-width="1.0"/>
<line x1="290.70" y1="360.30" x2="290.70" y2="363.70" stroke="#555" stroke-width="1.0"/>
<text x="281.70" y="357.30" font-size="8.6" text-anchor="middle" fill="#333" textLength="10.51" lengthAdjust="spacingAndGlyphs">NS</text>
<line x1="53.80" y1="261.40" x2="65.80" y2="261.40" stroke="#1e1e1e" stroke-width="1.15"/>
<line x1="71.65" y1="243.20" x2="83.65" y2="243.20" stroke="#1e1e1e" stroke-width="1.15"/>
<line x1="107.90" y1="267.90" x2="119.90" y2="267.90" stroke="#1e1e1e" stroke-width="1.15"/>
<line x1="143.80" y1="277.30" x2="155.80" y2="277.30" stroke="#1e1e1e" stroke-width="1.15"/>
<line x1="53.50" y1="368.50" x2="65.50" y2="368.50" stroke="#1e1e1e" stroke-width="1.15"/>
<line x1="72.00" y1="362.20" x2="84.00" y2="362.20" stroke="#1e1e1e" stroke-width="1.15"/>
<line x1="107.80" y1="372.00" x2="119.80" y2="372.00" stroke="#1e1e1e" stroke-width="1.15"/>
<line x1="213.80" y1="268.50" x2="225.80" y2="268.50" stroke="#1e1e1e" stroke-width="1.15"/>
<line x1="249.65" y1="273.80" x2="261.65" y2="273.80" stroke="#1e1e1e" stroke-width="1.15"/>
<line x1="286.00" y1="274.30" x2="298.00" y2="274.30" stroke="#1e1e1e" stroke-width="1.15"/>
<line x1="213.80" y1="360.20" x2="225.80" y2="360.20" stroke="#1e1e1e" stroke-width="1.15"/>
<line x1="249.65" y1="370.30" x2="261.65" y2="370.30" stroke="#1e1e1e" stroke-width="1.15"/>
<circle cx="59.50" cy="238.30" r="2.0" fill="#c80020"/>
<circle cx="55.60" cy="253.30" r="2.0" fill="#c80020"/>
<circle cx="63.50" cy="256.30" r="2.0" fill="#c80020"/>
<circle cx="55.60" cy="269.70" r="2.0" fill="#c80020"/>
<circle cx="63.50" cy="270.60" r="2.0" fill="#c80020"/>
<circle cx="59.50" cy="279.30" r="2.0" fill="#c80020"/>
<circle cx="77.80" cy="210.40" r="2.0" fill="#c80020"/>
<circle cx="77.80" cy="240.60" r="2.0" fill="#c80020"/>
<circle cx="73.80" cy="247.10" r="2.0" fill="#c80020"/>
<circle cx="81.50" cy="246.20" r="2.0" fill="#c80020"/>
<circle cx="73.80" cy="259.10" r="2.0" fill="#c80020"/>
<circle cx="81.50" cy="258.20" r="2.0" fill="#c80020"/>
<circle cx="113.80" cy="247.30" r="2.0" fill="#c80020"/>
<circle cx="110.10" cy="262.80" r="2.0" fill="#c80020"/>
<circle cx="117.70" cy="265.30" r="2.0" fill="#c80020"/>
<circle cx="113.80" cy="273.40" r="2.0" fill="#c80020"/>
<circle cx="110.10" cy="279.30" r="2.0" fill="#c80020"/>
<circle cx="117.70" cy="279.30" r="2.0" fill="#c80020"/>
<circle cx="150.00" cy="268.50" r="2.0" fill="#c80020"/>
<circle cx="147.70" cy="275.70" r="2.0" fill="#c80020"/>
<circle cx="145.40" cy="279.30" r="2.0" fill="#c80020"/>
<circle cx="150.00" cy="279.30" r="2.0" fill="#c80020"/>
<circle cx="153.50" cy="279.30" r="2.0" fill="#c80020"/>
<circle cx="91.00" cy="279.30" r="2.0" fill="#c80020"/>
<circle cx="93.40" cy="279.30" r="2.0" fill="#c80020"/>
<circle cx="95.80" cy="279.30" r="2.0" fill="#c80020"/>
<circle cx="98.20" cy="279.30" r="2.0" fill="#c80020"/>
<circle cx="100.60" cy="279.30" r="2.0" fill="#c80020"/>
<circle cx="127.10" cy="279.30" r="2.0" fill="#c80020"/>
<circle cx="129.50" cy="279.30" r="2.0" fill="#c80020"/>
<circle cx="131.90" cy="279.30" r="2.0" fill="#c80020"/>
<circle cx="134.30" cy="279.30" r="2.0" fill="#c80020"/>
<circle cx="136.70" cy="279.30" r="2.0" fill="#c80020"/>
<circle cx="77.80" cy="316.50" r="2.0" fill="#c80020"/>
<circle cx="58.40" cy="364.80" r="2.0" fill="#c80020"/>
<circle cx="55.40" cy="368.90" r="2.0" fill="#c80020"/>
<circle cx="61.20" cy="368.50" r="2.0" fill="#c80020"/>
<circle cx="63.90" cy="368.50" r="2.0" fill="#c80020"/>
<circle cx="58.40" cy="373.50" r="2.0" fill="#c80020"/>
<circle cx="61.50" cy="373.50" r="2.0" fill="#c80020"/>
<circle cx="75.50" cy="366.20" r="2.0" fill="#c80020"/>
<circle cx="79.60" cy="369.60" r="2.0" fill="#c80020"/>
<circle cx="73.20" cy="373.60" r="2.0" fill="#c80020"/>
<circle cx="77.50" cy="373.60" r="2.0" fill="#c80020"/>
<circle cx="81.80" cy="373.60" r="2.0" fill="#c80020"/>
<circle cx="95.30" cy="369.60" r="2.0" fill="#c80020"/>
<circle cx="113.80" cy="364.30" r="2.0" fill="#c80020"/>
<circle cx="113.80" cy="369.60" r="2.0" fill="#c80020"/>
<circle cx="150.00" cy="365.70" r="2.0" fill="#c80020"/>
<circle cx="91.00" cy="373.60" r="2.0" fill="#c80020"/>
<circle cx="93.40" cy="373.60" r="2.0" fill="#c80020"/>
<circle cx="95.80" cy="373.60" r="2.0" fill="#c80020"/>
<circle cx="98.20" cy="373.60" r="2.0" fill="#c80020"/>
<circle cx="100.60" cy="373.60" r="2.0" fill="#c80020"/>
<circle cx="109.30" cy="373.60" r="2.0" fill="#c80020"/>
<circle cx="112.30" cy="373.60" r="2.0" fill="#c80020"/>
<circle cx="115.30" cy="373.60" r="2.0" fill="#c80020"/>
<circle cx="118.30" cy="373.60" r="2.0" fill="#c80020"/>
<circle cx="127.10" cy="373.60" r="2.0" fill="#c80020"/>
<circle cx="129.50" cy="373.60" r="2.0" fill="#c80020"/>
<circle cx="131.90" cy="373.60" r="2.0" fill="#c80020"/>
<circle cx="134.30" cy="373.60" r="2.0" fill="#c80020"/>
<circle cx="136.70" cy="373.60" r="2.0" fill="#c80020"/>
<circle cx="144.90" cy="373.60" r="2.0" fill="#c80020"/>
<circle cx="147.30" cy="373.60" r="2.0" fill="#c80020"/>
<circle cx="149.70" cy="373.60" r="2.0" fill="#c80020"/>
<circle cx="152.10" cy="373.60" r="2.0" fill="#c80020"/>
<circle cx="154.50" cy="373.60" r="2.0" fill="#c80020"/>
<circle cx="199.00" cy="278.20" r="2.0" fill="#c80020"/>
<circle cx="203.00" cy="278.00" r="2.0" fill="#c80020"/>
<circle cx="219.60" cy="219.60" r="2.0" fill="#c80020"/>
<circle cx="217.80" cy="276.20" r="2.0" fill="#c80020"/>
<circle cx="221.50" cy="276.60" r="2.0" fill="#c80020"/>
<circle cx="215.50" cy="279.30" r="2.0" fill="#c80020"/>
<circle cx="219.60" cy="279.30" r="2.0" fill="#c80020"/>
<circle cx="223.10" cy="279.30" r="2.0" fill="#c80020"/>
<circle cx="251.90" cy="268.80" r="2.0" fill="#c80020"/>
<circle cx="260.00" cy="268.10" r="2.0" fill="#c80020"/>
<circle cx="255.60" cy="275.70" r="2.0" fill="#c80020"/>
<circle cx="260.00" cy="273.40" r="2.0" fill="#c80020"/>
<circle cx="251.90" cy="279.30" r="2.0" fill="#c80020"/>
<circle cx="260.00" cy="279.30" r="2.0" fill="#c80020"/>
<circle cx="272.00" cy="278.00" r="2.0" fill="#c80020"/>
<circle cx="292.00" cy="252.30" r="2.0" fill="#c80020"/>
<circle cx="292.00" cy="274.60" r="2.0" fill="#c80020"/>
<circle cx="196.50" cy="279.30" r="2.0" fill="#c80020"/>
<circle cx="198.90" cy="279.30" r="2.0" fill="#c80020"/>
<circle cx="201.30" cy="279.30" r="2.0" fill="#c80020"/>
<circle cx="203.70" cy="279.30" r="2.0" fill="#c80020"/>
<circle cx="206.10" cy="279.30" r="2.0" fill="#c80020"/>
<circle cx="233.00" cy="279.30" r="2.0" fill="#c80020"/>
<circle cx="235.40" cy="279.30" r="2.0" fill="#c80020"/>
<circle cx="237.80" cy="279.30" r="2.0" fill="#c80020"/>
<circle cx="240.20" cy="279.30" r="2.0" fill="#c80020"/>
<circle cx="242.60" cy="279.30" r="2.0" fill="#c80020"/>
<circle cx="269.10" cy="279.30" r="2.0" fill="#c80020"/>
<circle cx="271.50" cy="279.30" r="2.0" fill="#c80020"/>
<circle cx="273.90" cy="279.30" r="2.0" fill="#c80020"/>
<circle cx="276.30" cy="279.30" r="2.0" fill="#c80020"/>
<circle cx="278.70" cy="279.30" r="2.0" fill="#c80020"/>
<circle cx="287.00" cy="279.30" r="2.0" fill="#c80020"/>
<circle cx="289.50" cy="279.30" r="2.0" fill="#c80020"/>
<circle cx="292.00" cy="279.30" r="2.0" fill="#c80020"/>
<circle cx="294.50" cy="279.30" r="2.0" fill="#c80020"/>
<circle cx="297.00" cy="279.30" r="2.0" fill="#c80020"/>
<circle cx="219.60" cy="305.50" r="2.0" fill="#c80020"/>
<circle cx="199.30" cy="370.30" r="2.0" fill="#c80020"/>
<circle cx="203.00" cy="371.00" r="2.0" fill="#c80020"/>
<circle cx="219.60" cy="364.50" r="2.0" fill="#c80020"/>
<circle cx="217.80" cy="370.30" r="2.0" fill="#c80020"/>
<circle cx="215.50" cy="373.30" r="2.0" fill="#c80020"/>
<circle cx="219.60" cy="373.30" r="2.0" fill="#c80020"/>
<circle cx="223.10" cy="372.80" r="2.0" fill="#c80020"/>
<circle cx="257.00" cy="365.70" r="2.0" fill="#c80020"/>
<circle cx="253.10" cy="368.50" r="2.0" fill="#c80020"/>
<circle cx="251.90" cy="373.30" r="2.0" fill="#c80020"/>
<circle cx="255.60" cy="371.50" r="2.0" fill="#c80020"/>
<circle cx="260.00" cy="371.20" r="2.0" fill="#c80020"/>
<circle cx="291.60" cy="369.60" r="2.0" fill="#c80020"/>
<circle cx="288.40" cy="371.50" r="2.0" fill="#c80020"/>
<circle cx="294.60" cy="371.80" r="2.0" fill="#c80020"/>
<circle cx="196.90" cy="373.30" r="2.0" fill="#c80020"/>
<circle cx="199.30" cy="373.30" r="2.0" fill="#c80020"/>
<circle cx="201.70" cy="373.30" r="2.0" fill="#c80020"/>
<circle cx="204.10" cy="373.30" r="2.0" fill="#c80020"/>
<circle cx="206.50" cy="373.30" r="2.0" fill="#c80020"/>
<circle cx="232.80" cy="373.30" r="2.0" fill="#c80020"/>
<circle cx="235.20" cy="373.30" r="2.0" fill="#c80020"/>
<circle cx="237.60" cy="373.30" r="2.0" fill="#c80020"/>
<circle cx="240.00" cy="373.30" r="2.0" fill="#c80020"/>
<circle cx="242.40" cy="373.30" r="2.0" fill="#c80020"/>
<circle cx="269.40" cy="373.30" r="2.0" fill="#c80020"/>
<circle cx="271.80" cy="373.30" r="2.0" fill="#c80020"/>
<circle cx="274.20" cy="373.30" r="2.0" fill="#c80020"/>
<circle cx="276.60" cy="373.30" r="2.0" fill="#c80020"/>
<circle cx="279.00" cy="373.30" r="2.0" fill="#c80020"/>
<circle cx="287.30" cy="373.30" r="2.0" fill="#c80020"/>
<circle cx="290.30" cy="373.30" r="2.0" fill="#c80020"/>
<circle cx="293.30" cy="373.30" r="2.0" fill="#c80020"/>
<circle cx="296.30" cy="373.30" r="2.0" fill="#c80020"/>
<circle cx="345.9" cy="187.2" r="3.45" fill="none" stroke="#000" stroke-width="1.9"/>
<text x="357.30" y="207.80" font-size="8.6" textLength="48.50" lengthAdjust="spacingAndGlyphs">A375-CD19</text>
<text x="392.80" y="216.60" font-size="8.2" textLength="12.60" lengthAdjust="spacingAndGlyphs">s.c.</text>
<text x="415.50" y="219.20" font-size="8.6" textLength="42.20" lengthAdjust="spacingAndGlyphs">CAR-T cell</text>
<text x="437.20" y="229.80" font-size="8.2" text-anchor="middle" textLength="9.50" lengthAdjust="spacingAndGlyphs">i.v.</text>
<text x="465.20" y="212.30" font-size="8.6" textLength="48.10" lengthAdjust="spacingAndGlyphs">A375-CD19</text>
<text x="465.20" y="223.20" font-size="8.6" textLength="47.50" lengthAdjust="spacingAndGlyphs">rechallenge</text>
<text x="348.70" y="237.20" font-size="8.6" textLength="18.10" lengthAdjust="spacingAndGlyphs">NSG</text>
<text x="348.70" y="247.90" font-size="8.6" textLength="18.60" lengthAdjust="spacingAndGlyphs">mice</text>
<text x="358.70" y="267.60" font-size="8.3" textLength="18.00" lengthAdjust="spacingAndGlyphs">Days</text>
<text x="391.60" y="268.20" font-size="8.3" text-anchor="middle" textLength="4.39" lengthAdjust="spacingAndGlyphs">0</text>
<line x1="391.60" y1="250.80" x2="391.60" y2="258.80" stroke="#111" stroke-width="1.0"/>
<text x="437.70" y="268.20" font-size="8.3" text-anchor="middle" textLength="4.39" lengthAdjust="spacingAndGlyphs">7</text>
<line x1="437.70" y1="250.80" x2="437.70" y2="258.80" stroke="#111" stroke-width="1.0"/>
<text x="480.80" y="268.20" font-size="8.3" text-anchor="middle" textLength="8.77" lengthAdjust="spacingAndGlyphs">24</text>
<line x1="480.80" y1="250.80" x2="480.80" y2="258.80" stroke="#111" stroke-width="1.0"/>
<line x1="378.10" y1="255.10" x2="508.50" y2="255.10" stroke="#111" stroke-width="1.2"/>
<polygon points="513.6,255.1 506.8,252.2 506.8,258.0" fill="#111"/>
<line x1="437.70" y1="235.20" x2="437.70" y2="245.50" stroke="#111" stroke-width="1.0"/>
<polygon points="437.7,248.9 435.6,244.3 439.8,244.3" fill="#111"/>
<line x1="489.20" y1="230.40" x2="481.00" y2="244.60" stroke="#111" stroke-width="1.0"/>
<polygon points="479.2,247.7 479.6,242.9 483.2,245.0" fill="#111"/>
<path d="M380.4,236.1 C383.0,232.0 387.0,227.5 392.0,226.0 C397.0,225.4 400.5,229.0 401.0,234.0 C401.4,238.0 400.6,241.0 400.3,244.1 L416.8,245.3" fill="none" stroke="#111" stroke-width="1.0" stroke-linejoin="round"/>
<path d="M380.4,236.1 C380.0,232.5 379.0,231.0 377.2,231.0 C375.0,231.0 373.6,232.6 373.7,235.0 C373.8,237.5 375.0,239.0 376.6,240.6" fill="none" stroke="#111" stroke-width="1.0"/>
<line x1="372.60" y1="246.90" x2="416.80" y2="246.90" stroke="#666" stroke-width="1.6"/>
<polygon points="371.1,240.7 371.6,243.1 377.1,243.6 375.8,241.6" fill="#000"/>
<line x1="373.30" y1="243.40" x2="372.40" y2="246.60" stroke="#111" stroke-width="1.0"/>
<ellipse cx="380.4" cy="242.2" rx="1.0" ry="1.45" fill="none" stroke="#333" stroke-width="0.7"/>
<line x1="401.00" y1="221.00" x2="393.60" y2="239.60" stroke="#111" stroke-width="1.0"/>
<polygon points="392.5,243.0 391.9,238.5 395.6,239.9" fill="#111"/>
<text x="6.80" y="457.60" font-size="11.6" font-weight="bold" fill="#000" textLength="7.74" lengthAdjust="spacingAndGlyphs" style="stroke:#000;stroke-width:0.45px">P</text>
<text x="67.00" y="458.30" font-size="9.4" textLength="60.00" lengthAdjust="spacingAndGlyphs">1st inoculation</text>
<text x="197.20" y="456.40" font-size="9.4" textLength="64.30" lengthAdjust="spacingAndGlyphs">2nd inoculation</text>
<text x="57.50" y="470.90" font-size="8.2" textLength="35.90" lengthAdjust="spacingAndGlyphs">No target</text>
<text x="179.80" y="471.00" font-size="8.2" textLength="36.70" lengthAdjust="spacingAndGlyphs">No target</text>
<text x="70.80" y="596.00" font-size="8.2" textLength="43.00" lengthAdjust="spacingAndGlyphs">PRDM1 KO</text>
<text x="202.50" y="596.00" font-size="8.2" textLength="43.00" lengthAdjust="spacingAndGlyphs">PRDM1 KO</text>
<text x="26.70" y="506.00" font-size="8.6" text-anchor="middle" transform="rotate(-90 26.70 506.00)" textLength="71.00" lengthAdjust="spacingAndGlyphs">Tumor volume (mm<tspan font-size="5.5" dy="-3">3</tspan><tspan dy="3">)</tspan></text>
<text x="26.70" y="632.00" font-size="8.6" text-anchor="middle" transform="rotate(-90 26.70 632.00)" textLength="71.00" lengthAdjust="spacingAndGlyphs">Tumor volume (mm<tspan font-size="5.5" dy="-3">3</tspan><tspan dy="3">)</tspan></text>
<line x1="47.30" y1="467.00" x2="47.30" y2="546.20" stroke="#000" stroke-width="1.2"/>
<line x1="44.00" y1="545.60" x2="47.30" y2="545.60" stroke="#000" stroke-width="1.0"/>
<text x="41.60" y="548.60" font-size="8.5" text-anchor="end" textLength="4.25" lengthAdjust="spacingAndGlyphs">0</text>
<line x1="44.00" y1="527.09" x2="47.30" y2="527.09" stroke="#000" stroke-width="1.0"/>
<text x="41.60" y="530.09" font-size="8.5" text-anchor="end" textLength="8.51" lengthAdjust="spacingAndGlyphs">20</text>
<line x1="44.00" y1="508.58" x2="47.30" y2="508.58" stroke="#000" stroke-width="1.0"/>
<text x="41.60" y="511.58" font-size="8.5" text-anchor="end" textLength="8.51" lengthAdjust="spacingAndGlyphs">40</text>
<line x1="44.00" y1="490.07" x2="47.30" y2="490.07" stroke="#000" stroke-width="1.0"/>
<text x="41.60" y="493.07" font-size="8.5" text-anchor="end" textLength="8.51" lengthAdjust="spacingAndGlyphs">60</text>
<line x1="44.00" y1="471.56" x2="47.30" y2="471.56" stroke="#000" stroke-width="1.0"/>
<text x="41.60" y="474.56" font-size="8.5" text-anchor="end" textLength="8.51" lengthAdjust="spacingAndGlyphs">80</text>
<line x1="167.50" y1="468.00" x2="167.50" y2="546.60" stroke="#000" stroke-width="1.2"/>
<line x1="164.20" y1="546.00" x2="167.50" y2="546.00" stroke="#000" stroke-width="1.0"/>
<text x="161.60" y="549.00" font-size="8.5" text-anchor="end" textLength="4.25" lengthAdjust="spacingAndGlyphs">0</text>
<line x1="164.20" y1="527.50" x2="167.50" y2="527.50" stroke="#000" stroke-width="1.0"/>
<text x="161.60" y="530.50" font-size="8.5" text-anchor="end" textLength="8.51" lengthAdjust="spacingAndGlyphs">20</text>
<line x1="164.20" y1="509.00" x2="167.50" y2="509.00" stroke="#000" stroke-width="1.0"/>
<text x="161.60" y="512.00" font-size="8.5" text-anchor="end" textLength="8.51" lengthAdjust="spacingAndGlyphs">40</text>
<line x1="164.20" y1="490.50" x2="167.50" y2="490.50" stroke="#000" stroke-width="1.0"/>
<text x="161.60" y="493.50" font-size="8.5" text-anchor="end" textLength="8.51" lengthAdjust="spacingAndGlyphs">60</text>
<line x1="164.20" y1="472.00" x2="167.50" y2="472.00" stroke="#000" stroke-width="1.0"/>
<text x="161.60" y="475.00" font-size="8.5" text-anchor="end" textLength="8.51" lengthAdjust="spacingAndGlyphs">80</text>
<line x1="47.30" y1="596.30" x2="47.30" y2="668.00" stroke="#000" stroke-width="1.2"/>
<line x1="44.00" y1="667.40" x2="47.30" y2="667.40" stroke="#000" stroke-width="1.0"/>
<text x="41.40" y="670.40" font-size="8.5" text-anchor="end" textLength="4.25" lengthAdjust="spacingAndGlyphs">0</text>
<line x1="44.00" y1="650.54" x2="47.30" y2="650.54" stroke="#000" stroke-width="1.0"/>
<text x="41.40" y="653.54" font-size="8.5" text-anchor="end" textLength="8.51" lengthAdjust="spacingAndGlyphs">20</text>
<line x1="44.00" y1="633.68" x2="47.30" y2="633.68" stroke="#000" stroke-width="1.0"/>
<text x="41.40" y="636.68" font-size="8.5" text-anchor="end" textLength="8.51" lengthAdjust="spacingAndGlyphs">40</text>
<line x1="44.00" y1="616.82" x2="47.30" y2="616.82" stroke="#000" stroke-width="1.0"/>
<text x="41.40" y="619.82" font-size="8.5" text-anchor="end" textLength="8.51" lengthAdjust="spacingAndGlyphs">60</text>
<line x1="44.00" y1="599.96" x2="47.30" y2="599.96" stroke="#000" stroke-width="1.0"/>
<text x="41.40" y="602.96" font-size="8.5" text-anchor="end" textLength="8.51" lengthAdjust="spacingAndGlyphs">80</text>
<line x1="168.00" y1="597.00" x2="168.00" y2="668.00" stroke="#000" stroke-width="1.2"/>
<line x1="164.70" y1="667.40" x2="168.00" y2="667.40" stroke="#000" stroke-width="1.0"/>
<text x="162.00" y="670.40" font-size="8.5" text-anchor="end" textLength="4.25" lengthAdjust="spacingAndGlyphs">0</text>
<line x1="164.70" y1="650.54" x2="168.00" y2="650.54" stroke="#000" stroke-width="1.0"/>
<text x="162.00" y="653.54" font-size="8.5" text-anchor="end" textLength="8.51" lengthAdjust="spacingAndGlyphs">20</text>
<line x1="164.70" y1="633.68" x2="168.00" y2="633.68" stroke="#000" stroke-width="1.0"/>
<text x="162.00" y="636.68" font-size="8.5" text-anchor="end" textLength="8.51" lengthAdjust="spacingAndGlyphs">40</text>
<line x1="164.70" y1="616.82" x2="168.00" y2="616.82" stroke="#000" stroke-width="1.0"/>
<text x="162.00" y="619.82" font-size="8.5" text-anchor="end" textLength="8.51" lengthAdjust="spacingAndGlyphs">60</text>
<line x1="164.70" y1="599.96" x2="168.00" y2="599.96" stroke="#000" stroke-width="1.0"/>
<text x="162.00" y="602.96" font-size="8.5" text-anchor="end" textLength="8.51" lengthAdjust="spacingAndGlyphs">80</text>
<line x1="46.70" y1="545.60" x2="146.60" y2="545.60" stroke="#000" stroke-width="1.2"/>
<line x1="71.30" y1="545.60" x2="71.30" y2="548.60" stroke="#000" stroke-width="1.0"/>
<line x1="94.80" y1="545.60" x2="94.80" y2="548.60" stroke="#000" stroke-width="1.0"/>
<line x1="118.60" y1="545.60" x2="118.60" y2="548.60" stroke="#000" stroke-width="1.0"/>
<line x1="142.30" y1="545.60" x2="142.30" y2="548.60" stroke="#000" stroke-width="1.0"/>
<line x1="166.90" y1="546.00" x2="291.30" y2="546.00" stroke="#000" stroke-width="1.2"/>
<line x1="190.80" y1="546.00" x2="190.80" y2="549.00" stroke="#000" stroke-width="1.0"/>
<line x1="214.10" y1="546.00" x2="214.10" y2="549.00" stroke="#000" stroke-width="1.0"/>
<line x1="237.50" y1="546.00" x2="237.50" y2="549.00" stroke="#000" stroke-width="1.0"/>
<line x1="260.00" y1="546.00" x2="260.00" y2="549.00" stroke="#000" stroke-width="1.0"/>
<line x1="283.75" y1="546.00" x2="283.75" y2="549.00" stroke="#000" stroke-width="1.0"/>
<line x1="46.70" y1="667.40" x2="136.30" y2="667.40" stroke="#000" stroke-width="1.2"/>
<line x1="47.50" y1="667.40" x2="47.50" y2="670.40" stroke="#000" stroke-width="1.0"/>
<text x="47.50" y="679.60" font-size="8.4" text-anchor="middle" textLength="4.20" lengthAdjust="spacingAndGlyphs">0</text>
<line x1="69.00" y1="667.40" x2="69.00" y2="670.40" stroke="#000" stroke-width="1.0"/>
<text x="69.00" y="679.60" font-size="8.4" text-anchor="middle" textLength="4.20" lengthAdjust="spacingAndGlyphs">6</text>
<line x1="90.60" y1="667.40" x2="90.60" y2="670.40" stroke="#000" stroke-width="1.0"/>
<text x="90.60" y="679.60" font-size="8.4" text-anchor="middle" textLength="8.41" lengthAdjust="spacingAndGlyphs">12</text>
<line x1="112.10" y1="667.40" x2="112.10" y2="670.40" stroke="#000" stroke-width="1.0"/>
<text x="112.10" y="679.60" font-size="8.4" text-anchor="middle" textLength="8.41" lengthAdjust="spacingAndGlyphs">18</text>
<line x1="133.70" y1="667.40" x2="133.70" y2="670.40" stroke="#000" stroke-width="1.0"/>
<text x="133.70" y="679.60" font-size="8.4" text-anchor="middle" textLength="8.41" lengthAdjust="spacingAndGlyphs">24</text>
<line x1="167.40" y1="667.40" x2="280.40" y2="667.40" stroke="#000" stroke-width="1.2"/>
<line x1="168.00" y1="667.40" x2="168.00" y2="670.40" stroke="#000" stroke-width="1.0"/>
<text x="168.00" y="679.60" font-size="8.4" text-anchor="middle" textLength="4.20" lengthAdjust="spacingAndGlyphs">0</text>
<line x1="188.60" y1="667.40" x2="188.60" y2="670.40" stroke="#000" stroke-width="1.0"/>
<text x="188.60" y="679.60" font-size="8.4" text-anchor="middle" textLength="4.20" lengthAdjust="spacingAndGlyphs">6</text>
<line x1="209.40" y1="667.40" x2="209.40" y2="670.40" stroke="#000" stroke-width="1.0"/>
<text x="209.40" y="679.60" font-size="8.4" text-anchor="middle" textLength="8.41" lengthAdjust="spacingAndGlyphs">12</text>
<line x1="230.00" y1="667.40" x2="230.00" y2="670.40" stroke="#000" stroke-width="1.0"/>
<text x="230.00" y="679.60" font-size="8.4" text-anchor="middle" textLength="8.41" lengthAdjust="spacingAndGlyphs">18</text>
<line x1="251.00" y1="667.40" x2="251.00" y2="670.40" stroke="#000" stroke-width="1.0"/>
<text x="251.00" y="679.60" font-size="8.4" text-anchor="middle" textLength="8.41" lengthAdjust="spacingAndGlyphs">24</text>
<line x1="270.60" y1="667.40" x2="270.60" y2="670.40" stroke="#000" stroke-width="1.0"/>
<text x="270.60" y="679.60" font-size="8.4" text-anchor="middle" textLength="8.41" lengthAdjust="spacingAndGlyphs">30</text>
<text x="34.20" y="691.70" font-size="10.0" textLength="111.20" lengthAdjust="spacingAndGlyphs">Days after initial A375 inoculation</text>
<text x="178.00" y="691.70" font-size="10.0" textLength="91.50" lengthAdjust="spacingAndGlyphs">Days after A375 rechallenge</text>
<line x1="75.20" y1="474.50" x2="75.20" y2="545.60" stroke="#333" stroke-width="0.8" stroke-dasharray="0.9 0.9"/>
<line x1="72.60" y1="601.00" x2="72.60" y2="697.50" stroke="#333" stroke-width="0.8" stroke-dasharray="0.9 0.9"/>
<polygon points="72.6,667.6 70.3,672.0 74.9,672.0" fill="#111"/>
<text x="53.70" y="705.00" font-size="8.2" textLength="37.50" lengthAdjust="spacingAndGlyphs">CAR-T cell</text>
<polyline points="47.50,545.60 71.26,528.29 87.10,516.17 102.94,532.27 118.78,545.60 130.66,545.60 142.54,545.60" fill="none" stroke="#c80020" stroke-width="1.2" stroke-linejoin="round"/>
<rect x="69.86" y="526.89" width="2.8" height="2.8" fill="#c80020"/>
<rect x="85.70" y="514.77" width="2.8" height="2.8" fill="#c80020"/>
<rect x="101.54" y="530.87" width="2.8" height="2.8" fill="#c80020"/>
<rect x="117.38" y="544.20" width="2.8" height="2.8" fill="#c80020"/>
<rect x="129.26" y="544.20" width="2.8" height="2.8" fill="#c80020"/>
<rect x="141.14" y="544.20" width="2.8" height="2.8" fill="#c80020"/>
<polyline points="47.50,545.60 75.22,530.61 87.10,521.81 102.94,517.56 118.78,507.65 130.66,520.15 142.54,539.40" fill="none" stroke="#c80020" stroke-width="1.2" stroke-linejoin="round"/>
<rect x="73.82" y="529.21" width="2.8" height="2.8" fill="#c80020"/>
<rect x="85.70" y="520.41" width="2.8" height="2.8" fill="#c80020"/>
<rect x="101.54" y="516.16" width="2.8" height="2.8" fill="#c80020"/>
<rect x="117.38" y="506.25" width="2.8" height="2.8" fill="#c80020"/>
<rect x="129.26" y="518.75" width="2.8" height="2.8" fill="#c80020"/>
<rect x="141.14" y="538.00" width="2.8" height="2.8" fill="#c80020"/>
<polyline points="47.50,545.60 75.22,531.53 87.10,525.24 102.94,524.87 118.78,540.42 130.66,543.29 142.54,539.58" fill="none" stroke="#c80020" stroke-width="1.2" stroke-linejoin="round"/>
<rect x="73.82" y="530.13" width="2.8" height="2.8" fill="#c80020"/>
<rect x="85.70" y="523.84" width="2.8" height="2.8" fill="#c80020"/>
<rect x="101.54" y="523.47" width="2.8" height="2.8" fill="#c80020"/>
<rect x="117.38" y="539.02" width="2.8" height="2.8" fill="#c80020"/>
<rect x="129.26" y="541.89" width="2.8" height="2.8" fill="#c80020"/>
<rect x="141.14" y="538.18" width="2.8" height="2.8" fill="#c80020"/>
<polyline points="47.50,545.60 67.30,543.01 75.22,536.72 87.10,528.94 102.94,538.38 118.78,545.60 126.70,545.60" fill="none" stroke="#c80020" stroke-width="1.2" stroke-linejoin="round"/>
<rect x="65.90" y="541.61" width="2.8" height="2.8" fill="#c80020"/>
<rect x="73.82" y="535.32" width="2.8" height="2.8" fill="#c80020"/>
<rect x="85.70" y="527.54" width="2.8" height="2.8" fill="#c80020"/>
<rect x="101.54" y="536.98" width="2.8" height="2.8" fill="#c80020"/>
<rect x="117.38" y="544.20" width="2.8" height="2.8" fill="#c80020"/>
<rect x="125.30" y="544.20" width="2.8" height="2.8" fill="#c80020"/>
<polyline points="47.50,545.60 67.30,543.01 75.22,539.12 87.10,536.35 98.98,532.27 118.78,545.60" fill="none" stroke="#c80020" stroke-width="1.2" stroke-linejoin="round"/>
<rect x="65.90" y="541.61" width="2.8" height="2.8" fill="#c80020"/>
<rect x="73.82" y="537.72" width="2.8" height="2.8" fill="#c80020"/>
<rect x="85.70" y="534.95" width="2.8" height="2.8" fill="#c80020"/>
<rect x="97.58" y="530.87" width="2.8" height="2.8" fill="#c80020"/>
<rect x="117.38" y="544.20" width="2.8" height="2.8" fill="#c80020"/>
<polyline points="47.50,545.60 67.30,545.60 79.18,544.03 91.06,543.01 102.94,545.60 110.86,545.60" fill="none" stroke="#c80020" stroke-width="1.2" stroke-linejoin="round"/>
<rect x="65.90" y="544.20" width="2.8" height="2.8" fill="#c80020"/>
<rect x="77.78" y="542.63" width="2.8" height="2.8" fill="#c80020"/>
<rect x="89.66" y="541.61" width="2.8" height="2.8" fill="#c80020"/>
<rect x="101.54" y="544.20" width="2.8" height="2.8" fill="#c80020"/>
<rect x="109.46" y="544.20" width="2.8" height="2.8" fill="#c80020"/>
<polyline points="47.50,545.60 75.22,532.64 87.10,528.94 102.94,520.15 122.74,542.82 138.58,545.60" fill="none" stroke="#c80020" stroke-width="1.2" stroke-linejoin="round"/>
<rect x="73.82" y="531.24" width="2.8" height="2.8" fill="#c80020"/>
<rect x="85.70" y="527.54" width="2.8" height="2.8" fill="#c80020"/>
<rect x="101.54" y="518.75" width="2.8" height="2.8" fill="#c80020"/>
<rect x="121.34" y="541.42" width="2.8" height="2.8" fill="#c80020"/>
<rect x="137.18" y="544.20" width="2.8" height="2.8" fill="#c80020"/>
<polyline points="47.50,545.60 67.30,545.60 87.10,526.63 98.98,531.72 106.90,545.60" fill="none" stroke="#c80020" stroke-width="1.2" stroke-linejoin="round"/>
<rect x="65.90" y="544.20" width="2.8" height="2.8" fill="#c80020"/>
<rect x="85.70" y="525.23" width="2.8" height="2.8" fill="#c80020"/>
<rect x="97.58" y="530.32" width="2.8" height="2.8" fill="#c80020"/>
<rect x="105.50" y="544.20" width="2.8" height="2.8" fill="#c80020"/>
<polyline points="167.40,546.00 194.90,512.50 210.50,481.80" fill="none" stroke="#c80020" stroke-width="1.2" stroke-linejoin="round"/>
<circle cx="194.90" cy="512.50" r="1.9" fill="#c80020"/>
<circle cx="210.50" cy="481.80" r="1.9" fill="#c80020"/>
<polyline points="167.40,546.00 187.20,519.30 202.40,538.40 210.50,546.00 218.20,546.00" fill="none" stroke="#c80020" stroke-width="1.2" stroke-linejoin="round"/>
<circle cx="187.20" cy="519.30" r="1.9" fill="#c80020"/>
<circle cx="202.40" cy="538.40" r="1.9" fill="#c80020"/>
<circle cx="210.50" cy="546.00" r="1.9" fill="#c80020"/>
<circle cx="218.20" cy="546.00" r="1.9" fill="#c80020"/>
<polyline points="167.40,546.00 194.90,536.90 210.50,518.20 222.20,483.70" fill="none" stroke="#c80020" stroke-width="1.2" stroke-linejoin="round"/>
<circle cx="194.90" cy="536.90" r="1.9" fill="#c80020"/>
<circle cx="210.50" cy="518.20" r="1.9" fill="#c80020"/>
<circle cx="222.20" cy="483.70" r="1.9" fill="#c80020"/>
<polyline points="167.40,546.00 179.10,534.30 190.80,538.90 202.40,542.70 218.20,542.40 233.60,541.30 249.50,537.00 257.00,533.25 268.00,508.75 283.75,473.75" fill="none" stroke="#c80020" stroke-width="1.2" stroke-linejoin="round"/>
<circle cx="179.10" cy="534.30" r="1.9" fill="#c80020"/>
<circle cx="190.80" cy="538.90" r="1.9" fill="#c80020"/>
<circle cx="202.40" cy="542.70" r="1.9" fill="#c80020"/>
<circle cx="218.20" cy="542.40" r="1.9" fill="#c80020"/>
<circle cx="233.60" cy="541.30" r="1.9" fill="#c80020"/>
<circle cx="249.50" cy="537.00" r="1.9" fill="#c80020"/>
<circle cx="257.00" cy="533.25" r="1.9" fill="#c80020"/>
<circle cx="268.00" cy="508.75" r="1.9" fill="#c80020"/>
<circle cx="283.75" cy="473.75" r="1.9" fill="#c80020"/>
<polyline points="167.40,546.00 179.10,536.20 194.90,542.70 210.50,546.00 241.25,546.00 264.50,528.75 276.25,519.50 287.50,508.75" fill="none" stroke="#c80020" stroke-width="1.2" stroke-linejoin="round"/>
<circle cx="179.10" cy="536.20" r="1.9" fill="#c80020"/>
<circle cx="194.90" cy="542.70" r="1.9" fill="#c80020"/>
<circle cx="210.50" cy="546.00" r="1.9" fill="#c80020"/>
<circle cx="241.25" cy="546.00" r="1.9" fill="#c80020"/>
<circle cx="264.50" cy="528.75" r="1.9" fill="#c80020"/>
<circle cx="276.25" cy="519.50" r="1.9" fill="#c80020"/>
<circle cx="287.50" cy="508.75" r="1.9" fill="#c80020"/>
<polyline points="167.40,546.00 187.20,546.00 202.40,545.00 218.20,546.00 233.60,546.00 257.00,546.00 268.00,538.00 283.75,525.50 287.50,517.00" fill="none" stroke="#c80020" stroke-width="1.2" stroke-linejoin="round"/>
<circle cx="187.20" cy="546.00" r="1.9" fill="#c80020"/>
<circle cx="202.40" cy="545.00" r="1.9" fill="#c80020"/>
<circle cx="218.20" cy="546.00" r="1.9" fill="#c80020"/>
<circle cx="233.60" cy="546.00" r="1.9" fill="#c80020"/>
<circle cx="257.00" cy="546.00" r="1.9" fill="#c80020"/>
<circle cx="268.00" cy="538.00" r="1.9" fill="#c80020"/>
<circle cx="283.75" cy="525.50" r="1.9" fill="#c80020"/>
<circle cx="287.50" cy="517.00" r="1.9" fill="#c80020"/>
<polyline points="167.40,546.00 194.90,544.00 210.50,546.00 226.00,546.00 249.00,546.00 275.00,546.00 287.50,546.00" fill="none" stroke="#c80020" stroke-width="1.2" stroke-linejoin="round"/>
<circle cx="194.90" cy="544.00" r="1.9" fill="#c80020"/>
<circle cx="210.50" cy="546.00" r="1.9" fill="#c80020"/>
<circle cx="226.00" cy="546.00" r="1.9" fill="#c80020"/>
<circle cx="249.00" cy="546.00" r="1.9" fill="#c80020"/>
<circle cx="275.00" cy="546.00" r="1.9" fill="#c80020"/>
<circle cx="287.50" cy="546.00" r="1.9" fill="#c80020"/>
<polyline points="47.50,667.40 69.04,657.28 83.40,635.37 97.76,607.55 112.12,650.54 122.89,635.37 133.66,667.40" fill="none" stroke="#0f4a86" stroke-width="1.2" stroke-linejoin="round"/>
<circle cx="69.04" cy="657.28" r="1.3" fill="#0f4a86"/>
<circle cx="83.40" cy="635.37" r="1.3" fill="#0f4a86"/>
<circle cx="97.76" cy="607.55" r="1.3" fill="#0f4a86"/>
<circle cx="112.12" cy="650.54" r="1.3" fill="#0f4a86"/>
<circle cx="122.89" cy="635.37" r="1.3" fill="#0f4a86"/>
<circle cx="133.66" cy="667.40" r="1.3" fill="#0f4a86"/>
<polyline points="47.50,667.40 69.04,658.97 83.40,641.27 97.76,626.94 112.12,653.91 122.89,654.75 133.66,667.40" fill="none" stroke="#0f4a86" stroke-width="1.2" stroke-linejoin="round"/>
<circle cx="69.04" cy="658.97" r="1.3" fill="#0f4a86"/>
<circle cx="83.40" cy="641.27" r="1.3" fill="#0f4a86"/>
<circle cx="97.76" cy="626.94" r="1.3" fill="#0f4a86"/>
<circle cx="112.12" cy="653.91" r="1.3" fill="#0f4a86"/>
<circle cx="122.89" cy="654.75" r="1.3" fill="#0f4a86"/>
<circle cx="133.66" cy="667.40" r="1.3" fill="#0f4a86"/>
<polyline points="47.50,667.40 72.63,650.54 76.22,648.85 94.17,644.64 112.12,650.54 122.89,654.75 133.66,667.40" fill="none" stroke="#0f4a86" stroke-width="1.2" stroke-linejoin="round"/>
<circle cx="72.63" cy="650.54" r="1.3" fill="#0f4a86"/>
<circle cx="76.22" cy="648.85" r="1.3" fill="#0f4a86"/>
<circle cx="94.17" cy="644.64" r="1.3" fill="#0f4a86"/>
<circle cx="112.12" cy="650.54" r="1.3" fill="#0f4a86"/>
<circle cx="122.89" cy="654.75" r="1.3" fill="#0f4a86"/>
<circle cx="133.66" cy="667.40" r="1.3" fill="#0f4a86"/>
<polyline points="47.50,667.40 69.04,657.28 83.40,654.75 97.76,643.80 104.94,653.07 112.12,663.18 122.89,667.40 133.66,667.40" fill="none" stroke="#0f4a86" stroke-width="1.2" stroke-linejoin="round"/>
<circle cx="69.04" cy="657.28" r="1.3" fill="#0f4a86"/>
<circle cx="83.40" cy="654.75" r="1.3" fill="#0f4a86"/>
<circle cx="97.76" cy="643.80" r="1.3" fill="#0f4a86"/>
<circle cx="104.94" cy="653.07" r="1.3" fill="#0f4a86"/>
<circle cx="112.12" cy="663.18" r="1.3" fill="#0f4a86"/>
<circle cx="122.89" cy="667.40" r="1.3" fill="#0f4a86"/>
<circle cx="133.66" cy="667.40" r="1.3" fill="#0f4a86"/>
<polyline points="47.50,667.40 72.63,662.34 83.40,659.81 97.76,656.44 104.94,660.66 112.12,667.40 122.89,667.40 133.66,667.40" fill="none" stroke="#0f4a86" stroke-width="1.2" stroke-linejoin="round"/>
<circle cx="72.63" cy="662.34" r="1.3" fill="#0f4a86"/>
<circle cx="83.40" cy="659.81" r="1.3" fill="#0f4a86"/>
<circle cx="97.76" cy="656.44" r="1.3" fill="#0f4a86"/>
<circle cx="104.94" cy="660.66" r="1.3" fill="#0f4a86"/>
<circle cx="112.12" cy="667.40" r="1.3" fill="#0f4a86"/>
<circle cx="122.89" cy="667.40" r="1.3" fill="#0f4a86"/>
<circle cx="133.66" cy="667.40" r="1.3" fill="#0f4a86"/>
<polyline points="47.50,667.40 65.45,667.40 72.63,658.97 83.40,654.75 90.58,662.34 97.76,667.40 112.12,667.40" fill="none" stroke="#0f4a86" stroke-width="1.2" stroke-linejoin="round"/>
<circle cx="65.45" cy="667.40" r="1.3" fill="#0f4a86"/>
<circle cx="72.63" cy="658.97" r="1.3" fill="#0f4a86"/>
<circle cx="83.40" cy="654.75" r="1.3" fill="#0f4a86"/>
<circle cx="90.58" cy="662.34" r="1.3" fill="#0f4a86"/>
<circle cx="97.76" cy="667.40" r="1.3" fill="#0f4a86"/>
<circle cx="112.12" cy="667.40" r="1.3" fill="#0f4a86"/>
<polyline points="47.50,667.40 69.04,660.66 83.40,657.28 86.99,658.97 97.76,667.40 104.94,667.40" fill="none" stroke="#0f4a86" stroke-width="1.2" stroke-linejoin="round"/>
<circle cx="69.04" cy="660.66" r="1.3" fill="#0f4a86"/>
<circle cx="83.40" cy="657.28" r="1.3" fill="#0f4a86"/>
<circle cx="86.99" cy="658.97" r="1.3" fill="#0f4a86"/>
<circle cx="97.76" cy="667.40" r="1.3" fill="#0f4a86"/>
<circle cx="104.94" cy="667.40" r="1.3" fill="#0f4a86"/>
<polyline points="47.50,667.40 65.45,667.40 72.63,665.71 79.81,667.40 90.58,667.40 101.35,667.40 112.12,667.40 122.89,667.40 133.66,667.40" fill="none" stroke="#0f4a86" stroke-width="1.2" stroke-linejoin="round"/>
<circle cx="65.45" cy="667.40" r="1.3" fill="#0f4a86"/>
<circle cx="72.63" cy="665.71" r="1.3" fill="#0f4a86"/>
<circle cx="79.81" cy="667.40" r="1.3" fill="#0f4a86"/>
<circle cx="90.58" cy="667.40" r="1.3" fill="#0f4a86"/>
<circle cx="101.35" cy="667.40" r="1.3" fill="#0f4a86"/>
<circle cx="112.12" cy="667.40" r="1.3" fill="#0f4a86"/>
<circle cx="122.89" cy="667.40" r="1.3" fill="#0f4a86"/>
<circle cx="133.66" cy="667.40" r="1.3" fill="#0f4a86"/>
<polyline points="47.50,667.40 72.63,664.03 83.40,660.66 94.17,655.60 101.35,660.66 112.12,667.40 119.30,667.40" fill="none" stroke="#0f4a86" stroke-width="1.2" stroke-linejoin="round"/>
<circle cx="72.63" cy="664.03" r="1.3" fill="#0f4a86"/>
<circle cx="83.40" cy="660.66" r="1.3" fill="#0f4a86"/>
<circle cx="94.17" cy="655.60" r="1.3" fill="#0f4a86"/>
<circle cx="101.35" cy="660.66" r="1.3" fill="#0f4a86"/>
<circle cx="112.12" cy="667.40" r="1.3" fill="#0f4a86"/>
<circle cx="119.30" cy="667.40" r="1.3" fill="#0f4a86"/>
<polyline points="47.50,667.40 69.04,662.34 83.40,658.97 97.76,657.28 108.53,664.03 115.71,667.40" fill="none" stroke="#0f4a86" stroke-width="1.2" stroke-linejoin="round"/>
<circle cx="69.04" cy="662.34" r="1.3" fill="#0f4a86"/>
<circle cx="83.40" cy="658.97" r="1.3" fill="#0f4a86"/>
<circle cx="97.76" cy="657.28" r="1.3" fill="#0f4a86"/>
<circle cx="108.53" cy="664.03" r="1.3" fill="#0f4a86"/>
<circle cx="115.71" cy="667.40" r="1.3" fill="#0f4a86"/>
<polyline points="47.50,667.40 65.45,667.40 72.63,667.40 79.81,667.40 86.99,667.40 94.17,667.40 97.76,667.40 101.35,667.40 104.94,667.40 108.53,667.40 112.12,667.40 115.71,667.40 119.30,667.40 122.89,667.40 126.48,667.40 130.07,667.40 133.66,667.40" fill="none" stroke="#0f4a86" stroke-width="1.2" stroke-linejoin="round"/>
<circle cx="65.45" cy="667.40" r="1.3" fill="#0f4a86"/>
<circle cx="72.63" cy="667.40" r="1.3" fill="#0f4a86"/>
<circle cx="79.81" cy="667.40" r="1.3" fill="#0f4a86"/>
<circle cx="86.99" cy="667.40" r="1.3" fill="#0f4a86"/>
<circle cx="94.17" cy="667.40" r="1.3" fill="#0f4a86"/>
<circle cx="97.76" cy="667.40" r="1.3" fill="#0f4a86"/>
<circle cx="101.35" cy="667.40" r="1.3" fill="#0f4a86"/>
<circle cx="104.94" cy="667.40" r="1.3" fill="#0f4a86"/>
<circle cx="108.53" cy="667.40" r="1.3" fill="#0f4a86"/>
<circle cx="112.12" cy="667.40" r="1.3" fill="#0f4a86"/>
<circle cx="115.71" cy="667.40" r="1.3" fill="#0f4a86"/>
<circle cx="119.30" cy="667.40" r="1.3" fill="#0f4a86"/>
<circle cx="122.89" cy="667.40" r="1.3" fill="#0f4a86"/>
<circle cx="126.48" cy="667.40" r="1.3" fill="#0f4a86"/>
<circle cx="130.07" cy="667.40" r="1.3" fill="#0f4a86"/>
<circle cx="133.66" cy="667.40" r="1.3" fill="#0f4a86"/>
<polyline points="168.00,667.40 178.40,656.50 188.80,659.30 192.70,663.50 199.20,667.40 213.00,667.40 226.00,667.40 241.00,667.40 248.50,667.40 258.50,662.30 272.30,649.20 276.30,640.50" fill="none" stroke="#0f4a86" stroke-width="1.2" stroke-linejoin="round"/>
<circle cx="178.40" cy="656.50" r="1.9" fill="#0f4a86"/>
<circle cx="188.80" cy="659.30" r="1.9" fill="#0f4a86"/>
<circle cx="192.70" cy="663.50" r="1.9" fill="#0f4a86"/>
<circle cx="199.20" cy="667.40" r="1.9" fill="#0f4a86"/>
<circle cx="213.00" cy="667.40" r="1.9" fill="#0f4a86"/>
<circle cx="226.00" cy="667.40" r="1.9" fill="#0f4a86"/>
<circle cx="241.00" cy="667.40" r="1.9" fill="#0f4a86"/>
<circle cx="248.50" cy="667.40" r="1.9" fill="#0f4a86"/>
<circle cx="258.50" cy="662.30" r="1.9" fill="#0f4a86"/>
<circle cx="272.30" cy="649.20" r="1.9" fill="#0f4a86"/>
<circle cx="276.30" cy="640.50" r="1.9" fill="#0f4a86"/>
<polyline points="168.00,667.40 178.40,658.80 192.70,667.40 206.10,667.40 216.20,667.40 227.00,667.40 234.20,667.40 237.70,667.40 248.50,667.40 266.10,660.70 276.50,663.00" fill="none" stroke="#0f4a86" stroke-width="1.2" stroke-linejoin="round"/>
<circle cx="178.40" cy="658.80" r="1.9" fill="#0f4a86"/>
<circle cx="192.70" cy="667.40" r="1.9" fill="#0f4a86"/>
<circle cx="206.10" cy="667.40" r="1.9" fill="#0f4a86"/>
<circle cx="216.20" cy="667.40" r="1.9" fill="#0f4a86"/>
<circle cx="227.00" cy="667.40" r="1.9" fill="#0f4a86"/>
<circle cx="234.20" cy="667.40" r="1.9" fill="#0f4a86"/>
<circle cx="237.70" cy="667.40" r="1.9" fill="#0f4a86"/>
<circle cx="248.50" cy="667.40" r="1.9" fill="#0f4a86"/>
<circle cx="266.10" cy="660.70" r="1.9" fill="#0f4a86"/>
<circle cx="276.50" cy="663.00" r="1.9" fill="#0f4a86"/>
<polyline points="168.00,667.40 185.80,667.40 188.80,662.00 199.20,667.40 213.00,667.40 258.50,667.40 262.00,667.40 266.10,665.00 269.70,667.40 276.90,667.40" fill="none" stroke="#0f4a86" stroke-width="1.2" stroke-linejoin="round"/>
<circle cx="185.80" cy="667.40" r="1.9" fill="#0f4a86"/>
<circle cx="188.80" cy="662.00" r="1.9" fill="#0f4a86"/>
<circle cx="199.20" cy="667.40" r="1.9" fill="#0f4a86"/>
<circle cx="213.00" cy="667.40" r="1.9" fill="#0f4a86"/>
<circle cx="258.50" cy="667.40" r="1.9" fill="#0f4a86"/>
<circle cx="262.00" cy="667.40" r="1.9" fill="#0f4a86"/>
<circle cx="266.10" cy="665.00" r="1.9" fill="#0f4a86"/>
<circle cx="269.70" cy="667.40" r="1.9" fill="#0f4a86"/>
<circle cx="276.90" cy="667.40" r="1.9" fill="#0f4a86"/>
<text x="298.50" y="457.50" font-size="11.6" font-weight="bold" fill="#000" textLength="8.38" lengthAdjust="spacingAndGlyphs" style="stroke:#000;stroke-width:0.45px">R</text>
<line x1="347.50" y1="466.30" x2="347.50" y2="546.00" stroke="#000" stroke-width="1.2"/>
<line x1="342.30" y1="545.60" x2="347.50" y2="545.60" stroke="#000" stroke-width="1.0"/>
<text x="340.60" y="544.70" font-size="5.2" text-anchor="end" style="stroke-width:0.08px">−3</text>
<text x="334.57" y="548.60" font-size="8.4" text-anchor="end" textLength="8.41" lengthAdjust="spacingAndGlyphs">10</text>
<line x1="344.60" y1="541.11" x2="347.50" y2="541.11" stroke="#111" stroke-width="0.75"/>
<line x1="344.60" y1="538.49" x2="347.50" y2="538.49" stroke="#111" stroke-width="0.75"/>
<line x1="344.60" y1="536.63" x2="347.50" y2="536.63" stroke="#111" stroke-width="0.75"/>
<line x1="344.60" y1="535.19" x2="347.50" y2="535.19" stroke="#111" stroke-width="0.75"/>
<line x1="344.60" y1="534.01" x2="347.50" y2="534.01" stroke="#111" stroke-width="0.75"/>
<line x1="344.60" y1="533.01" x2="347.50" y2="533.01" stroke="#111" stroke-width="0.75"/>
<line x1="344.60" y1="532.14" x2="347.50" y2="532.14" stroke="#111" stroke-width="0.75"/>
<line x1="344.60" y1="531.38" x2="347.50" y2="531.38" stroke="#111" stroke-width="0.75"/>
<line x1="342.30" y1="530.70" x2="347.50" y2="530.70" stroke="#000" stroke-width="1.0"/>
<text x="340.60" y="529.80" font-size="5.2" text-anchor="end" style="stroke-width:0.08px">−2</text>
<text x="334.57" y="533.70" font-size="8.4" text-anchor="end" textLength="8.41" lengthAdjust="spacingAndGlyphs">10</text>
<line x1="344.60" y1="526.21" x2="347.50" y2="526.21" stroke="#111" stroke-width="0.75"/>
<line x1="344.60" y1="523.59" x2="347.50" y2="523.59" stroke="#111" stroke-width="0.75"/>
<line x1="344.60" y1="521.73" x2="347.50" y2="521.73" stroke="#111" stroke-width="0.75"/>
<line x1="344.60" y1="520.29" x2="347.50" y2="520.29" stroke="#111" stroke-width="0.75"/>
<line x1="344.60" y1="519.11" x2="347.50" y2="519.11" stroke="#111" stroke-width="0.75"/>
<line x1="344.60" y1="518.11" x2="347.50" y2="518.11" stroke="#111" stroke-width="0.75"/>
<line x1="344.60" y1="517.24" x2="347.50" y2="517.24" stroke="#111" stroke-width="0.75"/>
<line x1="344.60" y1="516.48" x2="347.50" y2="516.48" stroke="#111" stroke-width="0.75"/>
<line x1="342.30" y1="515.80" x2="347.50" y2="515.80" stroke="#000" stroke-width="1.0"/>
<text x="340.60" y="514.90" font-size="5.2" text-anchor="end" style="stroke-width:0.08px">−1</text>
<text x="334.57" y="518.80" font-size="8.4" text-anchor="end" textLength="8.41" lengthAdjust="spacingAndGlyphs">10</text>
<line x1="344.60" y1="511.31" x2="347.50" y2="511.31" stroke="#111" stroke-width="0.75"/>
<line x1="344.60" y1="508.69" x2="347.50" y2="508.69" stroke="#111" stroke-width="0.75"/>
<line x1="344.60" y1="506.83" x2="347.50" y2="506.83" stroke="#111" stroke-width="0.75"/>
<line x1="344.60" y1="505.39" x2="347.50" y2="505.39" stroke="#111" stroke-width="0.75"/>
<line x1="344.60" y1="504.21" x2="347.50" y2="504.21" stroke="#111" stroke-width="0.75"/>
<line x1="344.60" y1="503.21" x2="347.50" y2="503.21" stroke="#111" stroke-width="0.75"/>
<line x1="344.60" y1="502.34" x2="347.50" y2="502.34" stroke="#111" stroke-width="0.75"/>
<line x1="344.60" y1="501.58" x2="347.50" y2="501.58" stroke="#111" stroke-width="0.75"/>
<line x1="342.30" y1="500.90" x2="347.50" y2="500.90" stroke="#000" stroke-width="1.0"/>
<text x="340.60" y="500.00" font-size="5.2" text-anchor="end" style="stroke-width:0.08px">0</text>
<text x="337.61" y="503.90" font-size="8.4" text-anchor="end" textLength="8.41" lengthAdjust="spacingAndGlyphs">10</text>
<line x1="344.60" y1="496.41" x2="347.50" y2="496.41" stroke="#111" stroke-width="0.75"/>
<line x1="344.60" y1="493.79" x2="347.50" y2="493.79" stroke="#111" stroke-width="0.75"/>
<line x1="344.60" y1="491.93" x2="347.50" y2="491.93" stroke="#111" stroke-width="0.75"/>
<line x1="344.60" y1="490.49" x2="347.50" y2="490.49" stroke="#111" stroke-width="0.75"/>
<line x1="344.60" y1="489.31" x2="347.50" y2="489.31" stroke="#111" stroke-width="0.75"/>
<line x1="344.60" y1="488.31" x2="347.50" y2="488.31" stroke="#111" stroke-width="0.75"/>
<line x1="344.60" y1="487.44" x2="347.50" y2="487.44" stroke="#111" stroke-width="0.75"/>
<line x1="344.60" y1="486.68" x2="347.50" y2="486.68" stroke="#111" stroke-width="0.75"/>
<line x1="342.30" y1="486.00" x2="347.50" y2="486.00" stroke="#000" stroke-width="1.0"/>
<text x="340.60" y="485.10" font-size="5.2" text-anchor="end" style="stroke-width:0.08px">1</text>
<text x="337.61" y="489.00" font-size="8.4" text-anchor="end" textLength="8.41" lengthAdjust="spacingAndGlyphs">10</text>
<line x1="344.60" y1="481.51" x2="347.50" y2="481.51" stroke="#111" stroke-width="0.75"/>
<line x1="344.60" y1="478.89" x2="347.50" y2="478.89" stroke="#111" stroke-width="0.75"/>
<line x1="344.60" y1="477.03" x2="347.50" y2="477.03" stroke="#111" stroke-width="0.75"/>
<line x1="344.60" y1="475.59" x2="347.50" y2="475.59" stroke="#111" stroke-width="0.75"/>
<line x1="344.60" y1="474.41" x2="347.50" y2="474.41" stroke="#111" stroke-width="0.75"/>
<line x1="344.60" y1="473.41" x2="347.50" y2="473.41" stroke="#111" stroke-width="0.75"/>
<line x1="344.60" y1="472.54" x2="347.50" y2="472.54" stroke="#111" stroke-width="0.75"/>
<line x1="344.60" y1="471.78" x2="347.50" y2="471.78" stroke="#111" stroke-width="0.75"/>
<line x1="342.30" y1="471.10" x2="347.50" y2="471.10" stroke="#000" stroke-width="1.0"/>
<text x="340.60" y="470.20" font-size="5.2" text-anchor="end" style="stroke-width:0.08px">2</text>
<text x="337.61" y="474.10" font-size="8.4" text-anchor="end" textLength="8.41" lengthAdjust="spacingAndGlyphs">10</text>
<line x1="346.90" y1="545.40" x2="512.40" y2="545.40" stroke="#000" stroke-width="1.2"/>
<line x1="368.25" y1="545.40" x2="368.25" y2="548.60" stroke="#000" stroke-width="1.0"/>
<line x1="410.00" y1="545.40" x2="410.00" y2="548.60" stroke="#000" stroke-width="1.0"/>
<line x1="451.50" y1="545.40" x2="451.50" y2="548.60" stroke="#000" stroke-width="1.0"/>
<line x1="493.00" y1="545.40" x2="493.00" y2="548.60" stroke="#000" stroke-width="1.0"/>
<text x="309.30" y="508.00" font-size="8.6" text-anchor="middle" transform="rotate(-90 309.30 508.00)" textLength="66.90" lengthAdjust="spacingAndGlyphs">Human T cells in the</text>
<text x="320.70" y="507.70" font-size="8.6" text-anchor="middle" transform="rotate(-90 320.70 507.70)" textLength="67.40" lengthAdjust="spacingAndGlyphs">peripheral blood (%)</text>
<text x="368.25" y="557.60" font-size="8.2" text-anchor="middle" textLength="26.80" lengthAdjust="spacingAndGlyphs">Control</text>
<text x="410.00" y="557.60" font-size="8.2" text-anchor="middle" textLength="40.00" lengthAdjust="spacingAndGlyphs">PRDM1 KO</text>
<text x="451.50" y="557.60" font-size="8.2" text-anchor="middle" textLength="26.80" lengthAdjust="spacingAndGlyphs">Control</text>
<text x="493.00" y="557.60" font-size="8.2" text-anchor="middle" textLength="40.00" lengthAdjust="spacingAndGlyphs">PRDM1 KO</text>
<line x1="363.50" y1="561.40" x2="414.00" y2="561.40" stroke="#333" stroke-width="1.0"/>
<line x1="445.60" y1="561.40" x2="497.50" y2="561.40" stroke="#333" stroke-width="1.0"/>
<text x="388.60" y="572.80" font-size="8.2" text-anchor="middle">2</text>
<text x="470.80" y="572.80" font-size="8.2" text-anchor="middle">5</text>
<text x="306.30" y="565.00" font-size="8.6" textLength="45.00" lengthAdjust="spacingAndGlyphs">Weeks after</text>
<text x="300.50" y="574.60" font-size="8.6" textLength="50.70" lengthAdjust="spacingAndGlyphs">T cell infusion</text>
<line x1="451.50" y1="466.60" x2="492.30" y2="466.60" stroke="#555" stroke-width="1.0"/>
<line x1="451.50" y1="464.90" x2="451.50" y2="468.30" stroke="#555" stroke-width="1.0"/>
<line x1="492.30" y1="464.90" x2="492.30" y2="468.30" stroke="#555" stroke-width="1.0"/>
<text x="472.60" y="462.50" font-size="7.4" text-anchor="middle" fill="#333">P=0.02</text>
<line x1="354.50" y1="495.00" x2="382.10" y2="495.00" stroke="#1e1e1e" stroke-width="1.1"/>
<line x1="396.20" y1="486.70" x2="423.80" y2="486.70" stroke="#1e1e1e" stroke-width="1.1"/>
<line x1="437.90" y1="506.40" x2="465.30" y2="506.40" stroke="#1e1e1e" stroke-width="1.1"/>
<line x1="479.40" y1="484.10" x2="507.00" y2="484.10" stroke="#1e1e1e" stroke-width="1.1"/>
<circle cx="368.25" cy="484.00" r="2.0" fill="#c80020"/>
<circle cx="368.25" cy="490.00" r="2.0" fill="#c80020"/>
<circle cx="368.25" cy="499.25" r="2.0" fill="#c80020"/>
<circle cx="360.75" cy="506.50" r="2.0" fill="#c80020"/>
<circle cx="375.75" cy="508.75" r="2.0" fill="#c80020"/>
<circle cx="368.25" cy="509.50" r="2.0" fill="#c80020"/>
<circle cx="364.50" cy="516.50" r="2.0" fill="#c80020"/>
<circle cx="372.00" cy="518.25" r="2.0" fill="#c80020"/>
<circle cx="368.25" cy="530.75" r="2.0" fill="#c80020"/>
<circle cx="410.00" cy="475.90" r="2.0" fill="#c80020"/>
<circle cx="410.00" cy="480.10" r="2.0" fill="#c80020"/>
<circle cx="402.50" cy="499.30" r="2.0" fill="#c80020"/>
<circle cx="410.00" cy="497.20" r="2.0" fill="#c80020"/>
<circle cx="417.50" cy="501.30" r="2.0" fill="#c80020"/>
<circle cx="410.00" cy="503.50" r="2.0" fill="#c80020"/>
<circle cx="417.50" cy="506.30" r="2.0" fill="#c80020"/>
<circle cx="410.00" cy="509.90" r="2.0" fill="#c80020"/>
<circle cx="410.00" cy="518.60" r="2.0" fill="#c80020"/>
<circle cx="451.50" cy="500.50" r="2.0" fill="#c80020"/>
<circle cx="459.10" cy="497.80" r="2.0" fill="#c80020"/>
<circle cx="443.80" cy="508.20" r="2.0" fill="#c80020"/>
<circle cx="451.50" cy="509.50" r="2.0" fill="#c80020"/>
<circle cx="459.10" cy="508.20" r="2.0" fill="#c80020"/>
<circle cx="443.80" cy="516.80" r="2.0" fill="#c80020"/>
<circle cx="459.10" cy="516.80" r="2.0" fill="#c80020"/>
<circle cx="451.50" cy="528.90" r="2.0" fill="#c80020"/>
<circle cx="489.50" cy="476.20" r="2.0" fill="#c80020"/>
<circle cx="497.10" cy="474.30" r="2.0" fill="#c80020"/>
<circle cx="493.00" cy="486.30" r="2.0" fill="#c80020"/>
<circle cx="493.00" cy="494.00" r="2.0" fill="#c80020"/>
<circle cx="493.00" cy="500.50" r="2.0" fill="#c80020"/>
<circle cx="489.50" cy="509.50" r="2.0" fill="#c80020"/>
<circle cx="497.10" cy="506.10" r="2.0" fill="#c80020"/>
<circle cx="497.10" cy="510.90" r="2.0" fill="#c80020"/>
<circle cx="493.00" cy="515.00" r="2.0" fill="#c80020"/>
<circle cx="301.8" cy="589.4" r="3.3" fill="none" stroke="#000" stroke-width="1.9"/>
<line x1="301.50" y1="593.10" x2="307.00" y2="593.10" stroke="#000" stroke-width="1.7"/>
<line x1="347.50" y1="599.50" x2="347.50" y2="673.10" stroke="#000" stroke-width="1.2"/>
<line x1="344.50" y1="672.50" x2="347.50" y2="672.50" stroke="#000" stroke-width="1.0"/>
<text x="341.70" y="675.50" font-size="8.6" text-anchor="end" textLength="4.30" lengthAdjust="spacingAndGlyphs">0</text>
<line x1="344.50" y1="655.62" x2="347.50" y2="655.62" stroke="#000" stroke-width="1.0"/>
<text x="341.70" y="658.62" font-size="8.6" text-anchor="end" textLength="8.61" lengthAdjust="spacingAndGlyphs">25</text>
<line x1="344.50" y1="638.75" x2="347.50" y2="638.75" stroke="#000" stroke-width="1.0"/>
<text x="341.70" y="641.75" font-size="8.6" text-anchor="end" textLength="8.61" lengthAdjust="spacingAndGlyphs">50</text>
<line x1="344.50" y1="621.88" x2="347.50" y2="621.88" stroke="#000" stroke-width="1.0"/>
<text x="341.70" y="624.88" font-size="8.6" text-anchor="end" textLength="8.61" lengthAdjust="spacingAndGlyphs">75</text>
<line x1="344.50" y1="605.00" x2="347.50" y2="605.00" stroke="#000" stroke-width="1.0"/>
<text x="341.70" y="608.00" font-size="8.6" text-anchor="end" textLength="12.91" lengthAdjust="spacingAndGlyphs">100</text>
<line x1="346.90" y1="672.50" x2="463.00" y2="672.50" stroke="#000" stroke-width="1.2"/>
<line x1="347.50" y1="672.50" x2="347.50" y2="675.50" stroke="#000" stroke-width="1.0"/>
<text x="347.50" y="684.70" font-size="8.4" text-anchor="middle" textLength="4.20" lengthAdjust="spacingAndGlyphs">0</text>
<line x1="369.69" y1="672.50" x2="369.69" y2="675.50" stroke="#000" stroke-width="1.0"/>
<text x="369.69" y="684.70" font-size="8.4" text-anchor="middle" textLength="4.20" lengthAdjust="spacingAndGlyphs">7</text>
<line x1="391.88" y1="672.50" x2="391.88" y2="675.50" stroke="#000" stroke-width="1.0"/>
<text x="391.88" y="684.70" font-size="8.4" text-anchor="middle" textLength="8.41" lengthAdjust="spacingAndGlyphs">14</text>
<line x1="414.07" y1="672.50" x2="414.07" y2="675.50" stroke="#000" stroke-width="1.0"/>
<text x="414.07" y="684.70" font-size="8.4" text-anchor="middle" textLength="8.41" lengthAdjust="spacingAndGlyphs">21</text>
<line x1="436.26" y1="672.50" x2="436.26" y2="675.50" stroke="#000" stroke-width="1.0"/>
<text x="436.26" y="684.70" font-size="8.4" text-anchor="middle" textLength="8.41" lengthAdjust="spacingAndGlyphs">28</text>
<line x1="458.45" y1="672.50" x2="458.45" y2="675.50" stroke="#000" stroke-width="1.0"/>
<text x="458.45" y="684.70" font-size="8.4" text-anchor="middle" textLength="8.41" lengthAdjust="spacingAndGlyphs">35</text>
<text x="358.00" y="695.50" font-size="9.8" textLength="92.00" lengthAdjust="spacingAndGlyphs">Days after A375 rechallenge</text>
<text x="325.40" y="636.80" font-size="8.6" text-anchor="middle" transform="rotate(-90 325.40 636.80)" textLength="68.30" lengthAdjust="spacingAndGlyphs">Relapse free survival</text>
<text x="397.00" y="600.80" font-size="7.6" textLength="29.20" lengthAdjust="spacingAndGlyphs">P=0.037</text>
<polyline points="369.50,605.00 443.00,605.00 443.00,612.50" fill="none" stroke="#2a64a0" stroke-width="1.5"/>
<polyline points="347.50,605.00 369.50,605.00 369.50,612.50 382.50,612.50 382.50,620.00 430.00,620.00 430.00,627.50 436.30,627.50 436.30,635.00 443.00,635.00 443.00,642.50" fill="none" stroke="#d0103a" stroke-width="1.5"/>
<line x1="443.00" y1="612.50" x2="446.00" y2="612.50" stroke="#111" stroke-width="1.0"/>
<line x1="446.00" y1="611.00" x2="446.00" y2="613.50" stroke="#111" stroke-width="0.8"/>
<line x1="443.00" y1="642.50" x2="446.00" y2="642.50" stroke="#111" stroke-width="1.0"/>
<line x1="446.00" y1="641.00" x2="446.00" y2="643.50" stroke="#111" stroke-width="0.8"/>
<line x1="359.70" y1="649.70" x2="379.50" y2="649.70" stroke="#d0103a" stroke-width="1.4"/>
<line x1="369.80" y1="648.00" x2="369.80" y2="649.70" stroke="#111" stroke-width="0.8"/>
<line x1="359.70" y1="661.10" x2="379.50" y2="661.10" stroke="#2a64a0" stroke-width="1.4"/>
<line x1="369.80" y1="659.40" x2="369.80" y2="661.10" stroke="#111" stroke-width="0.8"/>
<text x="381.90" y="652.40" font-size="7.4" textLength="32.30" lengthAdjust="spacingAndGlyphs">No target</text>
<text x="381.90" y="663.80" font-size="7.4" textLength="38.10" lengthAdjust="spacingAndGlyphs">PRDM1 KO</text>
<rect x="0.55" y="0.5" width="518.9" height="710.4" fill="none" stroke="#000" stroke-width="1.2"/>
<line x1="0.00" y1="711.30" x2="520.00" y2="711.30" stroke="#000" stroke-width="1.4"/>
</svg>
</body></html>
